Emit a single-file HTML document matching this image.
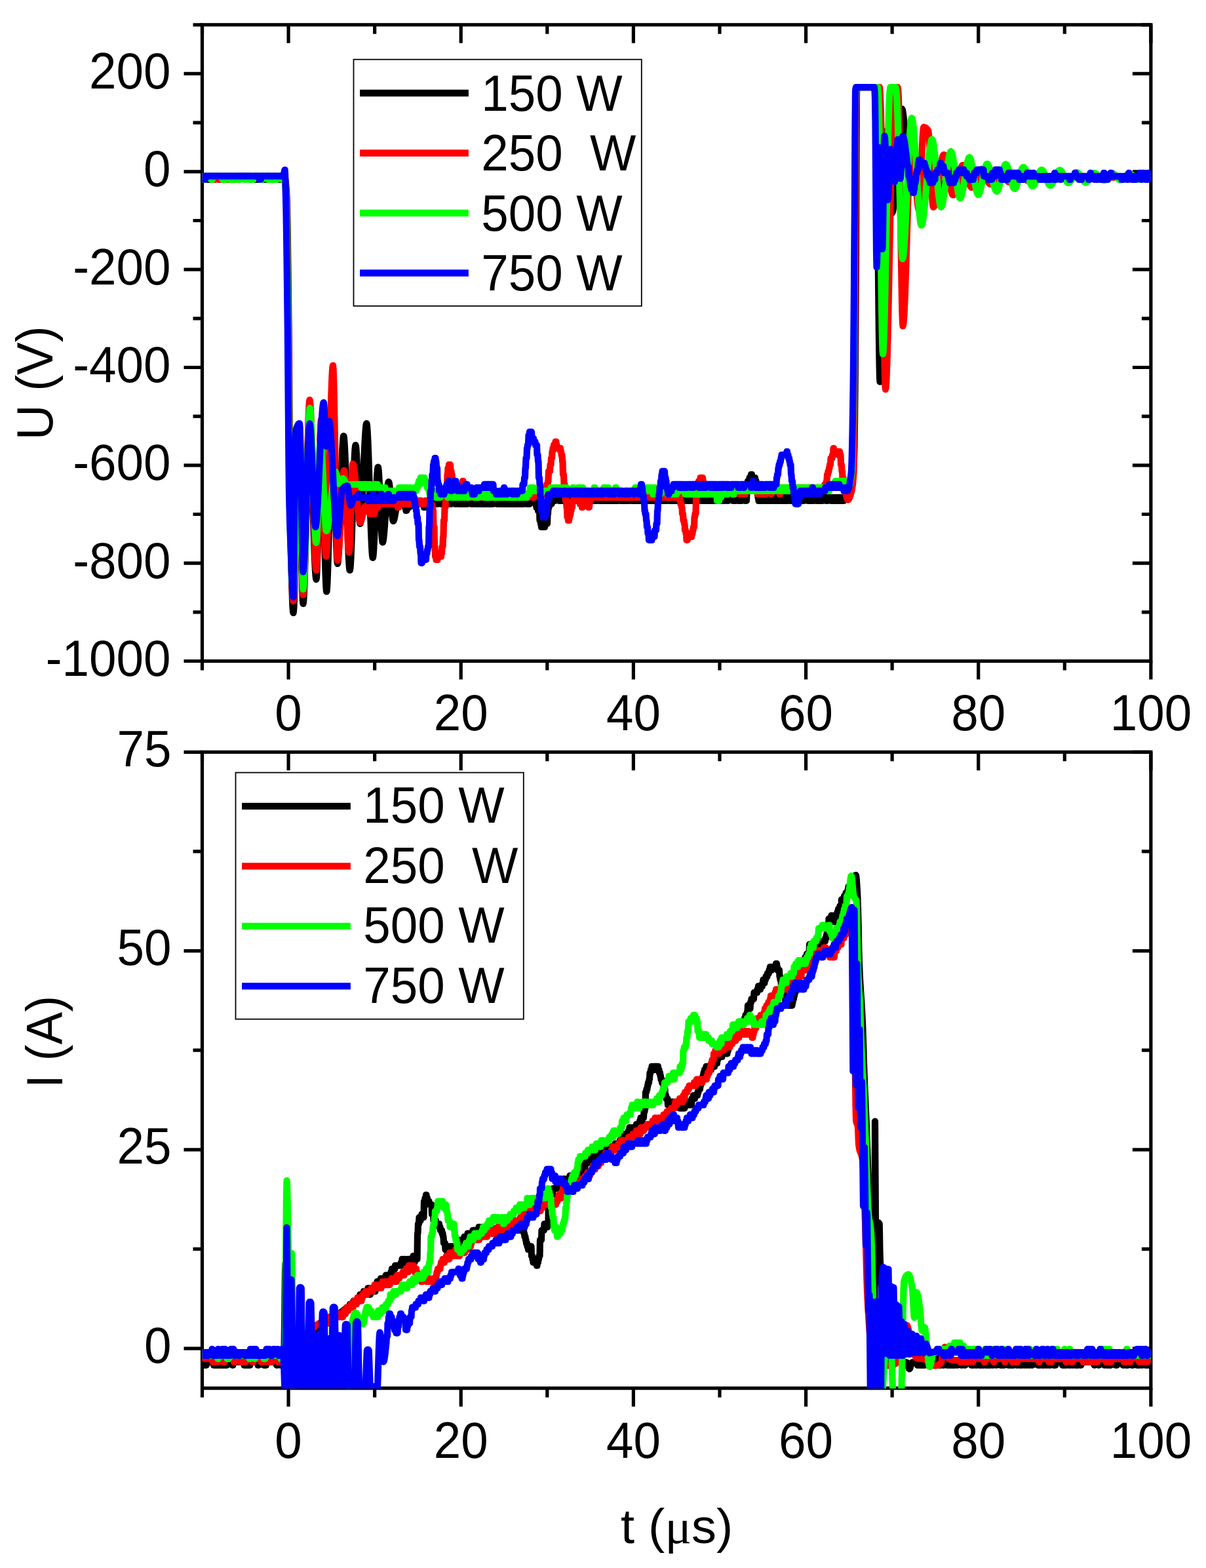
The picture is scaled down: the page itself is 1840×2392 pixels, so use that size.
<!DOCTYPE html>
<html lang="en">
<head>
<meta charset="utf-8">
<title>U (V) and I (A) versus t (μs)</title>
<style>
html,body{margin:0;padding:0;background:#fff;}
body{width:1840px;height:2392px;overflow:hidden;}
svg{display:block;}
text{white-space:pre;}
</style>
</head>
<body>
<svg width="1840" height="2392" viewBox="0 0 1840 2392" font-family="'Liberation Sans', sans-serif" font-size="74px" fill="#000">
<defs>
<clipPath id="ct"><rect x="308.5" y="37.8" width="1447.4" height="971.2"/></clipPath>
<clipPath id="cb"><rect x="308.5" y="1147.3" width="1447.4" height="970.9"/></clipPath>
</defs>
<rect width="1840" height="2392" fill="#fff"/>
<rect x="308.5" y="37.8" width="1447.4" height="970.7" fill="none" stroke="#000" stroke-width="5.2"/>
<path d="M440.08 1008.50v28.0M440.08 37.80v28.0M703.25 1008.50v28.0M703.25 37.80v28.0M966.41 1008.50v28.0M966.41 37.80v28.0M1229.57 1008.50v28.0M1229.57 37.80v28.0M1492.74 1008.50v28.0M1492.74 37.80v28.0M1755.90 1008.50v28.0M1755.90 37.80v28.0M308.50 1008.50v14.0M308.50 37.80v14.0M571.66 1008.50v14.0M571.66 37.80v14.0M834.83 1008.50v14.0M834.83 37.80v14.0M1097.99 1008.50v14.0M1097.99 37.80v14.0M1361.15 1008.50v14.0M1361.15 37.80v14.0M1624.32 1008.50v14.0M1624.32 37.80v14.0M308.50 1008.50h-28.0M1755.90 1008.50h-28.0M308.50 859.16h-28.0M1755.90 859.16h-28.0M308.50 709.82h-28.0M1755.90 709.82h-28.0M308.50 560.48h-28.0M1755.90 560.48h-28.0M308.50 411.15h-28.0M1755.90 411.15h-28.0M308.50 261.81h-28.0M1755.90 261.81h-28.0M308.50 112.47h-28.0M1755.90 112.47h-28.0M308.50 933.83h-14.0M1755.90 933.83h-14.0M308.50 784.49h-14.0M1755.90 784.49h-14.0M308.50 635.15h-14.0M1755.90 635.15h-14.0M308.50 485.82h-14.0M1755.90 485.82h-14.0M308.50 336.48h-14.0M1755.90 336.48h-14.0M308.50 187.14h-14.0M1755.90 187.14h-14.0M308.50 37.80h-14.0M1755.90 37.80h-14.0" fill="none" stroke="#000" stroke-width="5.2"/>
<g clip-path="url(#ct)" fill="none" stroke-width="10.2" stroke-linejoin="round" stroke-linecap="round">
<path stroke="#000000" d="M308.5 268.8h6.5l0.5 5h2.5l0.5-5h2l0.5 5h1.5l0.5-5h1l0.5 5h2.5l0.5-5h11l0.5 5h2l0.5-5h2l0.5 5h1.5l0.5-5h6.5l0.5 5h3l0.5-5h0.5l0.5 5h1.5l0.5-5h25l0.5 5h4l0.5-5h1.5l0.5 5h1.5l0.5-5h4.5l0.5 5h1.5l0.5-5h3l0.5 5h2.5l0.5-5h4.5l0.5 5h3l0.5-5h7l0.5 5h3l0.5-5h2l0.5 5h1l0.5-5h3.5l0.5 0.7l0.5 2.2l0.5 3.5l0.5 4.7l0.5 5.7l0.5 6.8l0.5 7.6l0.5 14.2l0.5 25.1l0.5 33.4l0.5 39.6l0.5 43.2l0.5 44.5l0.5 58.2l0.5 73.5l0.5 70.1l0.5 48.2l0.5 30.3l0.5 28.6l0.5 26.6l0.5 24.2l0.5 21.5l0.5 18.4l0.5 14.9l0.5 11.2l0.5 6.9l0.5 2.4l0.5-2.7l0.5-7.8l0.5-12.2l0.5-15.8l0.5-18.9l0.5-21.2l0.5-22.9l0.5-23.9l0.5-24.2l0.5-23.9l0.5-22.9l0.5-21.2l0.5-18.9l0.5-15.8l0.5-12.2l0.5-7.8l0.5-2.7l0.5 4.4l0.5 12.2l0.5 18.7l0.5 23.6l0.5 27.2l0.5 29.4l0.5 30l0.5 29.4l0.5 27.2l0.5 23.6l0.5 18.7l0.5 12.2l0.5 4.4l0.5-2.2l0.5-6.2l0.5-9.7l0.5-12.9l0.5-15.4l0.5-17.6l0.5-19.2l0.5-20.5l0.5-21.1l0.5-21.4l0.5-21.1l0.5-20.5l0.5-19.2l0.5-17.6l0.5-15.4l0.5-12.9l0.5-9.7l0.5-6.2l0.5-2.2l0.5 1.5l0.5 4.5l0.5 7l0.5 9.2l0.5 11.3l0.5 12.9l0.5 14.3l0.5 15.3l0.5 16.1l0.5 16.5l0.5 16.8l0.5 16.5l0.5 16.1l0.5 15.3l0.5 14.3l0.5 12.9l0.5 11.3l0.5 9.2l0.5 7l0.5 4.5l0.5 1.5l0.5-3l0.5-8.4l0.5-12.9l0.5-16.7l0.5-19.7l0.5-21.7l0.5-22.9l0.5-23.4l0.5-22.9l0.5-21.7l0.5-19.7l0.5-16.7l0.5-12.9l0.5-8.4l0.5-3l0.5 2.7l0.5 7.5l0.5 11.8l0.5 15.3l0.5 18.2l0.5 20.4l0.5 21.9l1 45.6l0.5 22.4l0.5 21.2l0.5 19.4l0.5 16.8l0.5 13.7l0.5 9.7l0.5 5.2l0.2 0.7l0.3-0.6l0.5-4.9l0.5-9l0.5-12.8l0.5-15.8l0.5-18.4l0.5-20.2l0.5-21.6l1-44.8l0.5-22l0.5-21l0.5-19.4l0.5-17.1l0.5-14.4l0.5-11l0.5-7l0.5-2.5l0.5 2.5l0.5 7l0.5 10.8l0.5 14.1l0.5 16.6l0.5 18.6l0.5 19.9l1 41l0.5 19.9l0.5 18.6l0.5 16.6l0.5 14.1l0.5 10.8l0.5 7l0.5 2.5l0.5-1.6l0.5-4.7l0.5-7.4l0.5-9.7l0.5-11.6l0.5-13.2l0.5-14.4l0.5-15.3l1-31.4l0.5-15.5l0.5-14.9l0.5-13.8l0.5-12.5l0.5-10.7l0.5-8.6l0.5-6.1l0.5-3.2l0.2-0.4l0.3 0.4l0.5 3.2l0.5 6.1l0.5 8.6l0.5 10.8l0.5 12.5l0.5 14l0.5 15l0.5 15.8l1 32.2l0.5 15.8l0.5 15l0.5 14l0.5 12.5l0.5 10.8l0.5 8.6l0.5 6.1l0.5 3.2l0.3 0.4l0.2-0.5l0.5-3.5l0.5-6.6l0.5-9.3l0.5-11.5l0.5-13.3l0.5-14.8l0.5-15.7l1-32.5l0.5-16.1l0.5-15.2l0.5-14.1l0.5-12.5l0.5-10.5l0.5-8l0.5-5.1l0.5-1.8l0.5 1.7l0.5 4.9l0.5 7.6l0.5 9.6l0.5 11.2l0.5 12.2l1 25.6l0.5 12.2l0.5 11.2l0.5 9.6l0.5 7.6l0.5 4.9l0.5 1.7l0.5-1.2l0.5-3.3l0.5-5.2l0.5-7l0.5-8.3l0.5-9.5l0.5-10.5l0.5-11.1l1.5-35l0.5-11.4l0.5-10.8l0.5-10.1l0.5-8.9l0.5-7.7l0.5-6.1l0.5-4.3l0.5-2.3l0.2-0.3l0.3 0.4l0.5 3.2l0.5 6.1l0.5 8.6l0.5 10.8l0.5 12.5l0.5 14l0.5 15l0.5 15.8l1 32.2l0.5 15.8l0.5 15l0.5 14l0.5 12.5l0.5 10.8l0.5 8.6l0.5 6.1l0.5 3.2l0.3 0.4l0.2-0.4l0.5-3l0.5-5.7l0.5-7.9l0.5-9.7l0.5-11.1l0.5-12.2l1.5-38.5l0.5-12.2l0.5-11.1l0.5-9.7l0.5-7.9l0.5-5.7l0.5-3l0.3-0.4l0.2 0.4l0.5 3.3l0.5 6l0.5 8.3l0.5 10l0.5 11.3l0.5 12l0.5 12.4l0.5 12l0.5 11.3l0.5 10l0.5 8.3l0.5 6l0.5 3.3l0.3 0.4l0.2-0.2l0.5-1.5l0.5-2.9l0.5-4.1l0.5-5.1l0.5-5.9l0.5-6.5l1-14.4l1-15l0.5-7.2l0.5-6.8l0.5-6.3l0.5-5.5l0.5-4.6l0.5-3.5l0.5-2.2l0.5-0.8l0.5 0.9l0.5 2.4l0.5 3.8l0.5 4.8l0.5 5.6l0.5 6.1l1 12.8l0.5 6.1l0.5 5.6l0.5 4.8l0.5 3.8l0.5 2.4l0.5 0.9l0.5-0.4l0.5-1.1l0.5-1.7l0.5-2.2l1-5.2l1-5.8l0.5-2.7l0.5-2h1l0.5-10h1l0.5 5h3l0.5-5h2.5l0.5 5h3l0.5 5h1l0.5 5h1l0.5-10h0.5l0.5 5h2l0.5-5h2.5l0.5-5h0.5l0.5 5h3.5l0.5-5h2l0.5 5h1l0.5-5h2l0.5 5h1l0.5-5h0.5l0.5 5h5l0.5 5h0.5l0.5-5h1l0.5-5h0.5l0.5 5h1l0.5-5h1l0.5 5h0.5l0.5-5h1l0.5 5h3.5l0.5-5h0.5l0.5 5h1l0.5-5h0.5l0.5 5h1l0.5-5h1l0.5 5h0.5l0.5-5h5l0.5 5h0.5l0.5-5h2l0.5 5h2.5l0.5-5h0.5l0.5 5h1l0.5-5h0.5l0.5 5h5l0.5-5h6l0.5 5h0.5l0.5-5h3.5l0.5 5h1l0.5-5h2l0.5 5h3.5l0.5-5h0.5l0.5 5h3.5l0.5-5h6l0.5 5h2l0.5-5h3.5l0.5 5h1l0.5-5h2l0.5 5h1l0.5-5h2l0.5 5h3.5l0.5-5h2l0.5 5h3.5l0.5-5h2l0.5 5h0.5l0.5-5h1l0.5 5h2l0.5-5h6l0.5 5h1l0.5-5h2l0.5 5h1l0.5-5h0.5l0.5 5h1l0.5-5h0.5l0.5 5h1l0.5-5h2l0.5 5h1l0.5-5h2l0.5 5h1l0.5-5h2l0.5 5h4.5l0.5-5h1l0.5 5h8.5l0.5-5h2l0.5 5h1l0.5-5h4.5l0.5 5h1l0.5-5h0.5l0.5 5h1l0.5-5h8.5l0.5 5h1l0.5 5h2l0.5 5h2l0.5 15h1l0.5 5h0.5l0.5 5h2.5l0.5-5h0.5l0.5 5h1l0.5-5h3.5l0.5-15h0.5l0.5-10h1l0.5-5h3.5l0.5-10h2l0.5 5h2l0.5-5h6l0.5 5h1l0.5-5h2l0.5 5h0.5l0.5-5h1l0.5 5h2l0.5-5h2l0.5 5h2.5l0.5-5h0.5l0.5 5h1l0.5-5h2l0.5 5h4.5l0.5-5h1l0.5 5h2l0.5-5h1l0.5 5h0.5l0.5-5h7.5l0.5 5h1l0.5-5h2l0.5 5h0.5l0.5-5h2.5l0.5 5h0.5l0.5-5h1l0.5 5h0.5l0.5-5h1l0.5 5h4.5l0.5-5h3.5l0.5 5h2l0.5-5h2.5l0.5 5h0.5l0.5-5h2l0.5 5h2.5l0.5-5h0.5l0.5 5h1l0.5-5h0.5l0.5 5h1l0.5-5h1l0.5 5h3l0.5-5h2.5l0.5 5h3l0.5-5h3.5l0.5 5h2l0.5-5h2.5l0.5 5h7l0.5-5h3.5l0.5 5h1l0.5-5h0.5l0.5 5h1l0.5-5h0.5l0.5 5h1l0.5-5h1l0.5 5h2l0.5-5h2l0.5 5h1l0.5-5h4.5l0.5 5h1l0.5-5h0.5l0.5 5h6l0.5-5h2l0.5 5h1l0.5-5h1l0.5 5h3l0.5-5h3.5l0.5 5h2l0.5-5h1l0.5 5h2l0.5-5h1l0.5 5h3.5l0.5-5h3l0.5 5h1l0.5-5h2l0.5 5h1l0.5-5h2l0.5 5h2l0.5-5h2l0.5 5h1l0.5-5h2l0.5 5h5l0.5-5h0.5l0.5 5h7.5l0.5-5h0.5l0.5 5h1l0.5-5h2l0.5 5h5l0.5-5h0.5l0.5 5h1l0.5-5h3.5l0.5 5h3l0.5-5h2.5l0.5 5h2l0.5-5h2l0.5 5h1l0.5-5h0.5l0.5 5h2l0.5-5h1l0.5 5h1l0.5-5h0.5l0.5 5h1l0.5-5h0.5l0.5 5h3.5l0.5-5h1l0.5 5h0.5l0.5-5h2.5l0.5 5h3l0.5-5h3.5l0.5 5h1l0.5-5h7l0.5 5h1l0.5-5h1l0.5 5h0.5l0.5-5h3.5l0.5 5h4.5l0.5-5h5l0.5 5h2l0.5-15h1l0.5-15h2l0.5-5h2l0.5-5h1l0.5 5h4.5l0.5 5h1l0.5 5h0.5l0.5 10h1l0.5 10h0.5l0.5 5h1l0.5-5h2l0.5 5h11.5l0.5-5h2l0.5 5h2l0.5-5h2l0.5 5h3.5l0.5-5h1l0.5 5h0.5l0.5-5h1l0.5 5h3.5l0.5-5h0.5l0.5 5h2l0.5-5h2.5l0.5 5h2l0.5-5h3.5l0.5 5h3l0.5-5h2.5l0.5 5h0.5l0.5-5h1l0.5 5h4.5l0.5-5h1l0.5 5h4.5l0.5-5h6l0.5 5h5l0.5-5h0.5l0.5 5h2l0.5-5h3.5l0.5 5h1l0.5-5h0.5l0.5 5h2.5l0.5-5h0.5l0.5 5h2l0.5-5h5l0.5 5h2l0.5-5h4.5l0.5 5h2.5l0.5-5h0.5l0.5 5h2l0.5-5h2.5l0.5 5h2l0.5-5h2l0.5 5h2l0.5-5h1l0.5 5h0.5l0.5-5h2.5l0.5-4.4l3-4.9l1-1.7l1.5-3l1-2.5l1-2.9l1-3.5l0.5-2.1l0.5-2.5l0.5-3l0.5-3.7l0.5-4.6l0.5-5.5l0.5-6.7l0.5-7.9l0.5-17.4l0.5-33.4l0.5-47.1l0.5-58.8l0.5-68.1l0.5-75.2l0.5-147.9l0.5-112.1l0.5-5l0.5-1.8h28l0.5 9l0.5 17.8l0.5 24.6l0.5 36.1l0.5 44.8l0.5 50.4l1 106.2l0.5 49.9l0.5 44l0.5 35l0.5 23.1l0.5 8.4l0.5-3.1l0.5-8.7l0.5-13.8l0.5-18.1l0.5-21.8l0.5-24.8l0.5-27.2l0.5-28.8l1.5-89.9l0.5-28.8l0.5-27.2l0.5-24.8l0.5-21.8l0.5-18.1l0.5-13.8l0.5-8.7l0.5-3.1l0.5 1.1l0.5 3.2l0.5 5l0.5 6.5l0.5 7.8l0.5 8.8l0.5 9.6l0.5 10.1l1 20.8l0.5 10.1l0.5 9.6l0.5 8.8l0.5 7.8l0.5 6.5l0.5 5l0.5 3.2l0.5 1.1l0.5-0.5l0.5-1.5l0.5-2.5l0.5-3.2l0.5-4.1l0.5-4.7l0.5-5.4l0.5-6l0.5-6.4l0.5-6.9l1-14.8l2.5-39.3l1-15.2l0.5-7.3l0.5-6.9l0.5-6.4l0.5-6l0.5-5.4l0.5-4.7l0.5-4.1l0.5-3.2l0.5-2.5l0.5-1.5l0.5-0.5l0.5 0.5l0.5 1.6l0.5 2.4l0.5 3.3l0.5 4l0.5 4.7l0.5 5.3l0.5 5.7l0.5 6.2l1 13.3l2 28l1 13.3l0.5 6.2l0.5 5.7l0.5 5.3l0.5 4.7l0.5 4l0.5 3.3l0.5 2.4l0.5 1.6l0.5 0.5l0.5-0.3l0.5-1l0.5-1.6l0.5-2.1l0.5-2.5l1-6l1-6.9l1.5-10.7l0.5-3.4l1-6l0.5-2.5l0.5-2.1l0.5-1.6l0.5-1l0.5-0.3l0.5 0.3l0.5 0.7l0.5 1.1l0.5 1.6l0.5 1.9l0.5 2.2l1 5.2l1 5.8l2 12.4l1 5.8l1 5.2l0.5 2.2l0.5 1.9l0.5 1.6l0.5 1.1l0.5 0.7l0.5 0.3l0.5-0.2l0.5-0.5l1-1.8l1-2.9l1-3.6l1.5-6.4l2-9.2l1.5-6.4l1-3.6l1-2.9l1-1.8l0.5-0.5l0.5-0.2l1 0.6l1 1.8l1 2.7l1 3.5l1 3.9l2.5 10.9l1 4.1l1 3.7l0.5 1.7l1 2.7l1 1.8l1 0.6l0.5-0.1l1-1l1-1.9l1-2.5l1.5-4.7l2-7.1l1-3.5l1.5-4.7l1-2.5l1-1.9l1-1h1l0.5 0.3l1 1.3l1 1.8l1.5 3.7l3 8.8l2 5.4l1 2.1l1 1.5l0.5 0.6l1 0.4l1-0.4l0.5-0.4l1-1.4l1-1.9l1.5-3.5l3-7.8l1.5-3.5l1-1.9l1-1.4l1-0.7h1l1.5 1l1 1.3l2 3.5l2 4.1l1 2.1l1.5 2.7l1 1.5l1.5 1.4l1 0.3l1-0.2l1-0.6l1.5-1.5l2-2.7l3.5-5.1l2-2.1l1-0.6l1.5-0.2l1.5 0.6l1.5 1.2l1.5 1.5l2 2.3l2.5 2.6l1.5 1.2l1.5 0.6l2-0.2l1.5-0.6l1.5-0.9l5-3.9l2.5-1.6l1.5-0.6l2-0.2l2 0.4l2 0.9l5 2.9l3 1.4l2 0.4l2-0.1l1.5-0.3l7-2.6l3.5-0.9l3.5-0.1l3 0.2l2.5 0.3l2.5 0.3l2.5 0.2l2.5 0.3l2.5 0.1l178.4 0.1"/>
<path stroke="#ff0000" d="M308.5 268.8h16.5l0.5 5h2l0.5-5h4l0.5 5h3l0.5-5h0.5l0.5 5h2l0.5-5h0.5l0.5 5h2l0.5-5h2.5l0.5 5h2.5l0.5-5h1l0.5 5h1.5l0.5-5h9l0.5 5h1.5l0.5-5h18l0.5 5h3.5l0.5-5h30l0.5 5h1.5l0.5-5h2.5l0.5 5h0.5l0.5-5h10.5l0.5 0.7l0.5 2.2l0.5 3.5l0.5 4.7l0.5 5.7l0.5 6.8l0.5 7.6l0.5 14.2l0.5 25.1l0.5 33.4l0.5 39.6l0.5 43.2l0.5 44.5l0.5 59l0.5 74.7l0.5 70.4l0.5 45.9l0.5 26.2l0.5 24.5l0.5 22.6l0.5 20.6l0.5 18.4l0.5 16l0.5 13.5l0.5 10.8l0.5 7.9l0.5 4.8l0.5 1.7l0.5-2.1l0.5-6.2l0.5-9.6l0.5-12.6l0.5-15.2l0.5-17.4l0.5-18.9l0.5-20.1l1.5-62.8l0.5-20.1l0.5-18.9l0.5-17.4l0.5-15.2l0.5-12.6l0.5-9.6l0.5-6.2l0.5-2.1l0.5 6l0.5 16.4l0.5 24.6l0.5 30.4l0.5 33.8l0.5 35.1l0.5 33.8l0.5 30.4l0.5 24.6l0.5 16.4l0.5 6l0.5-2.2l0.5-6.1l0.5-9.8l0.5-12.8l0.5-15.6l0.5-17.8l0.5-19.5l0.5-20.9l0.5-21.8l1-44.5l0.5-21.8l0.5-20.9l0.5-19.5l0.5-17.8l0.5-15.6l0.5-12.8l0.5-9.8l0.5-6.1l0.5-2.2l0.5 1.9l0.5 5.4l0.5 8.5l0.5 11.2l0.5 13.6l0.5 15.6l0.5 17.1l0.5 18.2l0.5 19.1l1 38.8l0.5 19.1l0.5 18.2l0.5 17.1l0.5 15.6l0.5 13.6l0.5 11.2l0.5 8.5l0.5 5.4l0.5 1.9l0.5-2.9l0.5-8.3l0.5-12.7l0.5-16.4l0.5-19.3l0.5-21.4l0.5-22.5l0.5-23l0.5-22.5l0.5-21.4l0.5-19.3l0.5-16.4l0.5-12.7l0.5-8.3l0.5-2.9l0.5 2.7l0.5 7.4l0.5 11.6l0.5 14.9l0.5 17.5l0.5 19.4l0.5 20.5l0.5 20.8l0.5 20.5l0.5 19.3l0.5 17.5l0.5 14.9l0.5 11.6l0.5 7.5l0.5 2.7l0.5-2l0.5-5.5l0.5-8.7l0.5-11.5l0.5-14l0.5-16.1l0.5-17.8l0.5-19l0.5-20.1l1.5-62l0.5-20l0.5-19.1l0.5-17.8l0.5-16l0.5-14l0.5-11.6l0.5-8.7l0.5-5.5l0.5-1.9l0.5 4.3l0.5 12.2l0.5 18.6l0.5 23.9l0.5 27.7l0.5 30.4l1 63.3l0.5 30.4l0.5 27.7l0.5 23.9l0.5 18.6l0.5 12.2l0.5 4.3l0.5-1l0.5-2.8l0.5-4.6l0.5-5.9l0.5-7.2l0.5-8.2l0.5-9l0.5-9.7l1.5-30.6l0.5-10.1l0.5-9.7l0.5-9l0.5-8.2l0.5-7.2l0.5-5.9l0.5-4.5l0.5-2.9l0.5-1l0.5 1.6l0.5 4.5l0.5 6.9l0.5 8.9l0.5 10.5l0.5 11.6l1.5 37l0.5 11.6l0.5 10.5l0.5 8.9l0.5 6.9l0.5 4.5l0.5 1.6l0.5-2.9l0.5-7.9l0.5-12l0.5-14.8l0.5-16.8l1-34.8l0.5-15.9l0.5-13.5l0.5-10.1l0.5-5.6l0.2-0.7l0.3 0.1l0.5 1l0.5 2l0.5 2.7l0.5 3.5l0.5 4.1l0.5 4.7l0.5 5.1l1 11.2l1.5 17.8l1 11.4l0.5 5.3l0.5 4.9l0.5 4.4l0.5 3.8l0.5 3.2l0.5 2.3l0.5 1.5l0.5 0.5l0.5-0.3l0.5-0.8l0.5-1.2l0.5-1.6l1-4l2-9.2l1-4l0.5-1.6l0.5-1.2l0.5-0.8l0.5-0.3l0.5 0.1l0.5 0.4l1 1.4h3l0.5 5h0.8l0.2 5h1l0.5-5h2l0.5-5h1l0.5 5h0.5l0.5 5h1l0.5-5h0.5l0.5-5h1l0.5-5h1l0.5 5h0.5l0.5-5h1l0.5-5h0.5l0.5 5h1l0.5-5h2l0.5 5h1l0.5-5h0.5l0.5 5h5l0.5-5h2l0.5 5h2l0.5-5h1l0.5 5h8.5l0.5 5h1l0.5-5h0.5l0.5-5h1l0.5 5h0.5l0.5-5h1l0.5 5h1l0.5-5h4.5l0.5 5h6l0.5-5h2l0.5 5h2l0.5-5h2.5l0.5 5h0.5l0.5-5h1l0.5 5h3.5l0.5-5h2l0.5 5h7l0.5-5h1l0.5 5h2l0.5-5h1l0.5 5h2l0.5 5h1l0.5 5h0.5l0.5 25h1l0.5 30h0.5l0.5 15h1l0.5 5h2l0.5-5h2l0.5-5h1l0.5 5h1l0.5-5h0.5l0.5-10h1l0.5-15h0.5l0.5-25h1l0.5-20h1l0.5-20h0.5l0.5-10h1l0.5-20h0.5l0.5-10h1l0.5-5h2l0.5 10h1l0.5 5h0.5l0.5 10h1l0.5 10h1l0.5 10h0.8l0.2-5h2l0.5-5h7.5l0.5-5h1l0.5-5h0.5l0.5 5h1l0.5 5h0.5l0.5 5h1l0.5 5h6l0.5 5h2l0.5-5h6l0.5 5h3.5l0.5-5h3.5l0.5 5h0.5l0.5-5h1l0.5 5h1l0.5-5h2l0.5 5h0.5l0.5-5h1l0.5 5h1l0.5-5h2l0.5 5h0.5l0.5-5h5l0.5 5h3.5l0.5-5h3l0.5 5h1l0.5-5h3.5l0.5 5h0.5l0.5-5h1l0.5 5h2l0.5-5h2l0.5 5h2.5l0.5-5h2l0.5 5h0.5l0.5-5h6l0.5 5h1l0.5-5h3.5l0.5 5h0.5l0.5-5h1l0.5 5h4.5l0.5-5h2.5l0.5 5h0.5l0.5-5h1l0.5 5h0.5l0.5-5h6l0.5 5h1l0.5-5h2l0.5-5h1l0.5 5h0.5l0.5-5h1l0.5 5h7.5l0.5-5h0.5l0.5 5h1l0.5-5h0.5l0.5-5h1l0.5-5h1l0.5-5h0.5l0.5-15h2l0.5-10h1l0.5-10h1l0.5-10h0.5l0.5-5h1l0.5-5h2l0.5-5h1l0.5 5h0.5l0.5 5h5l0.5 5h0.5l0.5 5h1l0.5 10h0.5l0.5 20h1l0.5 15h1l0.5 15h0.5l0.5 10h1l0.5 10h0.5l0.5 15h1l0.5 5h1l0.5-5h0.5l0.5-5h1l0.5-5h0.5l0.5-5h1l0.5-10h3.5l0.5-5h3.5l0.5 5h0.5l0.5-5h1l0.5 5h0.5l0.5 5h2.5l0.5 5h0.5l0.5-5h1l0.5-10h0.5l0.5 5h2.5l0.5 5h3l0.5 5h1l0.5-10h1l0.5-5h3l0.5-5h2.5l0.5 5h2l0.5-5h0.5l0.5 5h5l0.5-5h0.5l0.5 5h2.5l0.5-5h2l0.5 5h3.5l0.5-5h3l0.5 5h3.5l0.5-5h2l0.5 5h2.5l0.5-5h3l0.5 5h1l0.5-5h2l0.5 5h1l0.5-5h0.5l0.5 5h1l0.5-5h2l0.5 5h6l0.5-5h2l0.5 5h2.5l0.5-5h2l0.5 5h8.5l0.5-5h1l0.5 5h7l0.5-5h1l0.5 5h3.5l0.5-5h3l0.5 5h1l0.5-5h1l0.5 5h2l0.5-5h0.5l0.5 5h11.5l0.5-5h2l0.5 5h3.5l0.5-5h0.5l0.5 5h1l0.5-5h1l0.5 5h0.5l0.5-5h2l0.5 5h5l0.5-5h0.5l0.5 5h2.5l0.5 5h0.5l0.5 5h1l0.5 5h0.5l0.5 10h1l0.5 10h1l0.5 5h0.5l0.5 10h1l0.5 5h0.5l0.5 10h1.3l0.2-5h3.5l0.5-5h0.5l0.5 5h1l0.5-5h1l0.5-5h0.5l0.5-5h1l0.5-15h0.5l0.5-5h1l0.5-25h1l0.5-5h0.5l0.5-5h1l0.5-15h2l0.5-5h3.5l0.5 5h0.5l0.5 5h1l0.5 5h1l0.5 5h2l0.5-5h0.5l0.5 5h1l0.5 5h1l0.5-5h7l0.5 5h1l0.5-5h0.5l0.5 5h1l0.5-5h1l0.5 5h0.5l0.5-5h1l0.5 5h0.5l0.5-5h2.5l0.5 5h0.5l0.5-5h14l0.5 5h0.5l0.5-5h1l0.5 5h1l0.5-5h3l0.5-5h1l0.5 5h2l0.5 5h1l0.5-5h2l0.5 5h1l0.5-5h0.5l0.5 5h1l0.5-5h3.5l0.5-5h2l0.5 5h10l0.5-5h0.5l0.5 10h1l0.5-5h3.5l0.5 5h0.5l0.5-5h3.5l0.5 5h2l0.5-5h1l0.5-5h0.5l0.5 5h5l0.5 5h0.5l0.5-10h1l0.5 5h2l0.5-5h1l0.5 5h6l0.5 5h0.5l0.5-5h1l0.5-5h2l0.5 5h2l0.5-5h2.5l0.5 5h2l0.5-5h2l0.5 5h2l0.5-5h1l0.5 5h0.5l0.5-5h1l0.5 5h1l0.5-5h2l0.5 5h2l0.5-5h3.5l0.5 5h0.5l0.5-5h2.5l0.5 5h2l0.5-5h0.5l0.5 5h3.5l0.5-5h1l0.5 5h0.5l0.5-5h1l0.5 5h1l0.5-5h0.5l0.5 5h1l0.5-5h0.5l0.5 5h2.5l0.5-5h0.5l0.5 5h1l0.5-5h2l0.5 5h1l0.5-5h6l0.5-5h2l0.5-5h0.5l0.5-10h1l0.5-5h1l0.5-5h0.5l0.5-5h1l0.5-10h2l0.5-5h1l0.5-10h0.5l0.5 5h6l0.5 5h1l0.5-5h0.7l0.3 5h1l0.5 15h1l0.5 10h0.5l0.5 10h1l0.5 10h0.5l0.5 10h2l0.5 4.9l1 4.2l0.5 1.7l0.5 1.3l0.5 0.9l0.8 0.6l0.7-0.3l1-1.4l1-2.3l1-3.1l1-3.5l1-4l0.5-2.4l0.5-3l0.5-3.8l0.5-4.9l0.5-6.2l0.5-7.6l0.5-26.8l0.5-56.1l0.5-74.8l0.5-82.7l0.5-79.6l0.5-99.2l0.5-107.2l0.5-53.6l0.5-4.9l0.5-1.9h34.5l0.5 4.3l0.5 10.1l0.5 12.4l0.5 16.2l0.5 23.2l0.5 29.2l0.5 33.8l0.5 37.2l0.5 39.5l1 80.8l0.5 38.9l0.5 36.2l0.5 32.4l0.5 27.3l0.5 21l0.5 13.5l0.5 4.8l0.5-1.9l0.5-5.7l0.5-8.9l0.5-12.1l0.5-14.8l0.5-17.3l0.5-19.4l0.5-21.3l0.5-22.9l0.5-24.1l0.5-25l0.5-25.7l1-52.1l0.5-25.8l0.5-25.3l0.5-24.4l0.5-23.2l0.5-21.7l0.5-19.9l0.5-17.9l0.5-15.5l0.5-12.8l0.5-9.8l0.5-6.5l0.5-4.6l0.5-2.2h5l0.5 2.2l0.5 4.6l0.5 9.5l0.5 17.7l0.5 24.3l0.5 29.6l0.5 33.5l0.5 35.9l0.5 37l0.5 36.6l0.5 34.9l0.5 31.7l0.5 27.1l0.5 21.1l0.5 13.7l0.5 4.9l0.5-1.3l0.5-3.6l0.5-5.9l0.5-7.8l0.5-9.7l0.5-11.2l0.5-12.7l0.5-13.8l0.5-14.9l0.5-15.6l0.5-16.3l0.5-16.6l1-33.7l0.5-16.6l0.5-16.3l0.5-15.6l0.5-14.9l0.5-13.8l0.5-12.7l0.5-11.2l0.5-9.7l0.5-7.8l0.5-5.9l0.5-3.6l0.5-1.3l0.5 0.6l0.5 1.9l0.5 2.9l0.5 3.8l0.5 4.7l0.5 5.5l0.5 6.1l0.5 6.6l0.5 6.9l1.5 22.2l1 14.8l0.5 6.9l0.5 6.6l0.5 6.1l0.5 5.5l0.5 4.7l0.5 3.8l0.5 2.9l0.5 1.9l0.5 0.6l0.5-1.7l0.5-4.8l0.5-7.4l0.5-9.6l0.5-11.1l0.5-12.3l1-25.8l0.5-12.7l0.5-11.7l0.5-10.4l0.5-8.6l0.5-6.1l0.5-3.4l0.5-0.4l2 0.6l1.5 1l1.5 1.5l1.5 1.9l0.5 1.9l0.5 4.2l0.5 6.1l0.5 7.6l0.5 9l0.5 9.8l0.5 10.5l1 21.5l0.5 10.3l0.5 9.7l0.5 8.6l0.5 7.3l0.5 5.6l0.5 3.6l0.5 1.3l0.5-0.2l0.5-0.7l0.5-1.1l0.5-1.4l0.5-1.8l1-4.6l1-5.6l1-6.5l1.5-10.6l2-15l1-7.2l1-6.7l0.5-3.2l1-5.6l1-4.6l0.5-1.8l0.5-1.4l0.5-1.1l0.5-0.7l0.5-0.2l0.5 0.2l0.5 0.7l0.5 1.1l0.5 1.4l0.5 1.8l1 4.4l1 5.4l1 6l2.5 16.3l1 6.3l1 5.7l0.5 2.6l1 4.4l0.5 1.8l0.5 1.4l0.5 1.1l0.5 0.7l0.5 0.2l0.5-0.1l1-1.2l0.5-0.9l1-2.5l1-3.3l1-3.8l1.5-6.4l2-9.1l1.5-6.4l1-3.8l1-3.3l1-2.5l1-1.6l0.5-0.5h1l0.5 0.4l1 1.5l1 2.3l1 2.9l1 3.3l3 11.2l1 3.5l1 3.1l1 2.6l0.5 1.1l1 1.5l0.5 0.4h1l1-0.7l1-1.3l1.5-2.8l1.5-3.6l3-8.3l1-2.7l1-2.5l1.5-3.1l1-1.5l1-1l1-0.4l1 0.4l1 1l1 1.5l2 4.2l3 7.6l2 4.5l1 1.7l1 1.3l1 0.7h1l1-0.5l1-0.9l1.5-2l2-3.5l3-6l1.5-2.7l1.5-2.2l1-1.1l1-0.7l1-0.3l1 0.2l1 0.7l1 1.1l1.5 2.1l4 7.1l1 1.7l1.5 2.1l1 1.1l1 0.7l1.5 0.2l2-1l1-0.9l1.5-1.7l4-5.5l1.5-1.9l1-1.1l1-0.9l2-1h1l2 1l2 1.9l1.5 1.8l3.5 4.4l1.5 1.5l1.5 1l1 0.4l1.5-0.1l1.5-0.7l2-1.6l1.5-1.5l3.5-3.7l2-1.6l1.5-0.7l1.5-0.1l1.5 0.4l1.5 0.8l2.5 1.9l3.5 3l1.5 1l1 0.5l1.5 0.4l2-0.2l1.5-0.6l2-1.2l2.5-1.9l3.5-2.3l1.5-0.6l2-0.2l1.5 0.3l1.5 0.6l1.5 0.8l3.5 2.2l2 1.2l1.5 0.6l1.5 0.3l2-0.1l4-1.4l2.5-1.2l4-1.8l1.5-0.4l2-0.1l2.5 0.4l7 2.6l3.5 0.9l2.5 0.1l3.5-0.6l2.5-0.8l2-0.5l4-1l3-0.1l2 0.3l2 0.3l2.5 0.6l2 0.5l2 0.5l2.5 0.3h2.5l2.5-0.3l3-0.4l2-0.3l2.5-0.3l7-0.2l3.5 0.1l3 0.1l2.5 0.1l3.5 0.1l39.9 0.1"/>
<path stroke="#00ff00" d="M308.5 268.8h1.5l0.5 5h2l0.5-5h8.5l0.5 5h2l0.5-5h14.5l0.5 5h4.5l0.5-5h5.5l0.5 5h1.5l0.5-5h2l0.5 5h2l0.5-5h2.5l0.5 5h2l0.5-5h0.5l0.5 5h2.5l0.5-5h6l0.5 5h1l0.5-5h3l0.5 5h3l0.5-5h3l0.5 5h1.5l0.5-5h9.5l0.5 5h2.5l0.5-5h7.5l0.5 5h3l0.5-5h0.5l0.5 5h2l0.5-5h0.5l0.5 5h3.5l0.5-5h0.5l0.5 5h1l0.5-5h6.5l0.5 5l0.5-5h2.5l0.5 0.7l0.5 2.2l0.5 3.5l0.5 4.7l0.5 5.7l0.5 6.8l0.5 7.6l0.5 14.2l0.5 25.1l0.5 33.4l0.5 39.6l0.5 43.2l0.5 44.5l0.5 59.5l0.5 75.7l0.5 70.5l0.5 44.3l0.5 23.3l0.5 21.6l0.5 19.9l0.5 18.1l0.5 16.3l0.5 14.4l0.5 12.3l0.5 10.3l0.5 8.1l0.5 5.9l0.5 3.6l0.5 1.2l0.5-2l0.5-5.8l0.5-9.1l0.5-12l0.5-14.4l0.5-16.5l0.5-17.9l0.5-19.1l0.5-19.7l0.5-20l0.5-19.7l0.5-19.1l0.5-17.9l0.5-16.5l0.5-14.4l0.5-12l0.5-9.1l0.5-5.8l0.5-2l0.5 5.7l0.5 15.8l0.5 23.5l0.5 29.2l0.5 32.4l0.5 33.6l0.5 32.4l0.5 29.1l0.5 23.5l0.5 15.8l0.5 5.8l0.5-2l0.5-5.4l0.5-8.7l0.5-11.4l0.5-13.8l0.5-15.9l0.5-17.5l0.5-18.7l0.5-19.6l1-40.3l0.5-19.9l0.5-19.2l0.5-18.2l0.5-16.7l0.5-14.9l0.5-12.7l0.5-10.1l0.5-7.1l0.5-3.7l0.3-0.5l0.2 0.4l0.5 3.1l0.5 5.8l0.5 8.2l0.5 10.3l0.5 12l0.5 13.5l0.5 14.5l0.5 15.3l1 31.5l0.5 15.5l0.5 15l0.5 14l0.5 12.8l0.5 11.2l0.5 9.3l0.5 7.1l0.5 4.4l0.5 1.6l0.5-2.6l0.5-7.3l0.5-11.2l0.5-14.1l0.5-16.3l0.5-17.5l0.5-18l0.5-17.5l0.5-16.3l0.5-14.1l0.5-11.2l0.5-7.3l0.5-2.6l0.5 1.2l0.5 3.5l0.5 5.5l0.5 7.2l0.5 8.6l0.5 9.8l0.5 10.6l0.5 11.1l1 23l0.5 11.1l0.5 10.6l0.5 9.8l0.5 8.6l0.5 7.2l0.5 5.5l0.5 3.5l0.5 1.2l0.5-0.3l0.5-1l0.5-1.6l0.5-2.1l0.5-2.6l0.5-3l1-7.2l1-8.4l1-9.2l2-19.2l1-9.2l1-8.4l1-7.2l0.5-3l0.5-2.6l0.5-2.1l0.5-1.6l0.5-1l0.5-0.3l0.5 0.5l0.5 1.4l0.5 2l0.5 2.4l1 5.4l0.5 2.4l0.5 2l0.5 1.4l0.5 0.5l1-0.6l0.5-0.6l3-5.6l1-1l0.5-0.2l0.5 0.1l1 1.1l1 1.7l2 4.2l1 1.7l1 1.1l1.5 0.1l2.5-0.5l3-0.5h8l6.5-0.1l0.5 5h2.5l0.5-5h0.5l0.5 5h1l0.5-5h2l0.5 5h3.5l0.5-5h0.5l0.5 5h5l0.5-5h0.5l0.5 5h1l0.5-5h3.5l0.5 5h11l0.5 5h10l0.5 5h1l0.5-5h0.5l0.5 5h1l0.5-5h6l0.5-5h2l0.5 5h2l0.5-5h1l0.5 5h2l0.5-5h1l0.5 5h2l0.5-5h0.5l0.5 5h2.5l0.5-5h0.5l0.5 5h5l0.5-5h0.5l0.5 5h1l0.5-5h2l0.5-5h1l0.5-5h0.5l0.5 5h1l0.5-10h0.5l0.5 5h1l0.5-5h3.5l0.5 5h2l0.5 5h1l0.5 5h0.5l0.5-5h1l0.5 10h0.5l0.5 5h1l0.5-5h4.5l0.5 5h2.5l0.5 5h2l0.5-5h0.5l0.5-5h1l0.5 10h2l0.5-10h1l0.5 5h8.5l0.5 5h2l0.5-5h5l0.5 5h0.5l0.5-5h2l0.5 5h1l0.5-5h2l0.5 5h1l0.5-5h3.5l0.5 5h0.5l0.5-5h2l0.5 5h1l0.5-5h3.5l0.5 5h2l0.5-5h7.5l0.5 5h0.5l0.5-5h2l0.5 5h3.5l0.5-5h7.5l0.5 5h3.5l0.5-5h0.5l0.5 5h2l0.5-5h2.5l0.5 5h0.5l0.5-5h2l0.5 5h2.5l0.5-5h0.5l0.5 5h5l0.5-5h3l0.5 5h1l0.5-5h3.5l0.5 5h3.5l0.5-5h2l0.5 5h3.5l0.5-5h0.5l0.5 5h1l0.5-5h0.5l0.5 5h3.5l0.5-5h1l0.5 5h2l0.5-5h1l0.5 5h2l0.5-5h3.5l0.5 5h2l0.5-5h3.5l0.5-5h0.5l0.5-5h1l0.5 5h2l0.5-5h1l0.5 5h9.5l0.5 5h1l0.5-5h14l0.5-5h0.5l0.5 5h1l0.5-5h0.5l0.5 5h2.5l0.5 5h0.5l0.5-10h1l0.5 10h0.5l0.5-5h1l0.5-5h1l0.5 5h0.5l0.5-5h1l0.5 5h3.5l0.5-5h0.5l0.5 5h2l0.5-5h1l0.5 5h1l0.5 5h0.5l0.5-5h6l0.5-5h1l0.5 5h6l0.5-5h0.5l0.5 5h1l0.5-5h1l0.5 5h2l0.5-5h0.5l0.5 5h16.5l0.5-5h1l0.5 10h2l0.5-5h2l0.5 5h1l0.5-5h4.5l0.5 5h1l0.5-10h2l0.5 5h3.5l0.5-5h0.5l0.5 5h2.5l0.5 5h0.5l0.5-5h6l0.5-5h1l0.5 5h0.5l0.5 5h3.5l0.5-5h12.5l0.5 5h2l0.5-5h3.5l0.5 5h3.5l0.5-10h1l0.5 10h0.5l0.5-5h7.5l0.5 5h0.5l0.5-10h1l0.5 5h4.5l0.5-5h1l0.5 5h4.5l0.5-5h1l0.5 5h1l0.5 5h0.5l0.5-5h1l0.5-5h0.5l0.5 10h1l0.5-5h2l0.5 5h3.5l0.5-5h10l0.5 5h0.5l0.5-5h2.5l0.5 5h0.5l0.5-5h3.5l0.5 5h2l0.5-10h1l0.5 10h0.5l0.5-5h12.5l0.5 5h1l0.5-5h1l0.5 5h2l0.5-5h3.5l0.5 5h2l0.5-5h0.5l0.5 5h1l0.5-5h2l0.5 5h1l0.5-5h2l0.5 5h2l0.5-5h2l0.5 5h1l0.5-5h1l0.5 5h2l0.5-5h0.5l0.5 5h1l0.5-5h3.5l0.5 5h2l0.5-5h1l0.5 5h0.5l0.5-5h3.5l0.5 5h1l0.5 10h3l0.5-5h2.5l0.5-10h3l0.5-5h1l0.5 10h1l0.5-5h0.5l0.5 5h2l0.5-5h3.5l0.5-5h1l0.5 5h2l0.5 5h1l0.5-5h16l0.5-5h3.5l0.5 5h2l0.5-5h2.5l0.5 5h2l0.5-5h0.5l0.5 5h3.5l0.5-5h2l0.5 5h1l0.5-5h3.5l0.5 5h0.5l0.5-5h2.5l0.5 5h0.5l0.5-5h3.5l0.5 5h1l0.5-5h6l0.5 5h0.5l0.5-5h1l0.5 5h2l0.5-5h6l0.5 5h1l0.5-5h4.5l0.5 5h1l0.5-5h0.5l0.5 5h2l0.5-5h2.5l0.5 5h0.5l0.5-5h2l0.5 5h1l0.5-5h1l0.5 5h0.5l0.5-5h1l0.5 5h2l0.5-5h1l0.5 5h0.5l0.5-5h1l0.5 5h0.5l0.5-5h2.5l0.5 5h2l0.5-5h0.5l0.5 5h1l0.5-5h3.5l0.5 5h0.5l0.5-5h1l0.5 5h1l0.5-5h0.5l0.5 5h1l0.5-5h0.5l0.5 5h1l0.5-5h1l0.5 5h2l0.5-5h0.5l0.5 5h2.5l0.5-5h0.5l0.5 5h1l0.5-5h2l0.5 5h1l0.5-5h2l0.5 5h0.5l0.5-5h3.5l0.5 5h1l0.5-5h7l0.5-5h1l0.5-5h1l0.5 5h2l0.5-5h0.5l0.5 5h1l0.5-5h4.5l0.5 5h1l0.5-5h1l0.5 5h0.5l0.5-5l0.5 1.1h1.5l0.5 0.2l1 1.4l1.5 2.6l0.5 0.6l0.5 0.2l0.5-0.4l0.5-1.3l0.5-2l0.5-2.8l0.5-3.6l0.5-4.3l0.5-4.9l0.5-5.7l0.5-13.4l0.5-26.2l0.5-36.1l0.5-43.2l0.5-47.4l0.5-48.7l0.5-67.5l0.5-91.3l0.5-93.6l0.5-74.2l0.5-33.4l0.5-4.8l0.5-2h32.5l0.5 4.3l0.5 10.1l0.5 12.4l0.5 16.9l0.5 24.9l0.5 31.4l0.5 36.2l0.5 39.3l1 81.5l0.5 39l0.5 35.5l0.5 30.5l0.5 23.8l0.5 15.5l0.5 5.5l0.5-2.4l0.5-7l0.5-11l0.5-14.6l0.5-17.9l0.5-20.5l0.5-22.8l0.5-24.6l0.5-26l0.5-26.9l1-54.7l0.5-26.9l0.5-26l0.5-24.7l0.5-22.8l0.5-20.6l0.5-17.8l0.5-14.7l0.5-11.1l0.5-7l0.5-4.6l0.5-2.2h8l0.5 2.3l0.5 4.5l0.5 6.2l0.5 9.1l0.5 11.6l0.5 13.8l0.5 15.6l0.5 17l0.5 18l0.5 18.7l1 38l0.5 18.5l0.5 17.7l0.5 16.6l0.5 15l0.5 13.1l0.5 10.9l0.5 8.2l0.5 5.2l0.5 1.8l0.5-0.8l0.5-2.3l0.5-3.8l0.5-5l0.5-6.2l0.5-7.3l0.5-8.2l0.5-9l0.5-9.8l0.5-10.3l0.5-10.8l0.5-11.1l2-45.8l0.5-11.1l0.5-10.8l0.5-10.3l0.5-9.8l0.5-9l0.5-8.2l0.5-7.3l0.5-6.2l0.5-5l0.5-3.8l0.5-2.3l0.5-0.8l0.5 0.6l0.5 1.6l0.5 2.5l0.5 3.5l0.5 4.3l0.5 5.1l0.5 5.7l0.5 6.3l0.5 6.8l0.5 7.3l0.5 7.6l0.5 7.9l1 16.4l1 16.7l1 16.2l0.5 7.8l0.5 7.4l0.5 7.1l0.5 6.6l0.5 6l0.5 5.4l0.5 4.7l0.5 3.9l0.5 3l0.5 2.1l0.5 1.1l0.5 0.1l0.5-0.8l0.5-1.4l0.5-2l0.5-2.6l0.5-3.2l0.5-3.6l0.5-4.1l0.5-4.5l0.5-4.8l1-10.6l1-11.5l1-11.9l1.5-18.1l1-11.6l0.5-5.6l0.5-5.3l0.5-5l0.5-4.7l0.5-4.3l0.5-3.8l0.5-3.4l0.5-2.9l0.5-2.4l0.5-1.7l0.5-1l0.5-0.4l0.5 0.4l0.5 1.2l0.5 1.8l0.5 2.5l0.5 3.1l0.5 3.6l0.5 4.1l0.5 4.5l0.5 4.8l1 10.4l1 11.1l1 11.3l1 11l0.5 5.2l1 9.6l0.5 4.3l0.5 3.8l0.5 3.4l0.5 2.8l0.5 2.2l0.5 1.5l0.5 0.8h0.5l0.5-0.5l0.5-1.1l0.5-1.5l0.5-2l0.5-2.3l0.5-2.7l1-6.4l1-7.3l1.5-12.2l1.5-12.8l1.5-12.2l1-7.3l1-6.4l0.5-2.7l0.5-2.3l0.5-2l0.5-1.5l0.5-1.1l0.8-0.6l0.7 0.6l0.5 1l0.5 1.4l0.5 1.8l0.5 2.2l1 5.2l1 6.3l1 7l3 22.3l1 6.8l0.5 3.2l0.5 2.9l1 5l0.5 2l0.5 1.6l0.5 1.2l0.5 0.7l0.5 0.3l0.5-0.2l0.5-0.7l0.5-1.1l0.5-1.5l0.5-1.8l0.5-2.1l1-5l1-5.8l1.5-9.7l1.5-10l1-6.4l1-5.8l1-5l0.5-2.1l0.5-1.8l0.5-1.5l0.5-1.1l0.5-0.7l0.5-0.2l0.5 0.2l0.5 0.7l0.5 1.1l0.5 1.4l0.5 1.7l1 4.4l0.5 2.5l1 5.7l1.5 9.2l1.5 9.4l1 5.9l0.5 2.8l1 4.8l0.5 2.1l0.5 1.7l0.5 1.4l0.5 1.1l0.5 0.7l0.5 0.2l0.5-0.2l0.5-0.5l0.5-0.9l1-2.6l1-3.6l1-4.4l1-4.8l2.5-13l1.5-7.1l1-4l0.5-1.7l1-2.6l0.5-0.9l0.5-0.5l0.5-0.2l0.5 0.1l1 1.1l1 2l1 2.8l1 3.3l1.5 5.9l1.5 6.3l1 4.3l1.5 5.9l1 3.5l1 3l1 2.2l1 1.3l1 0.3l1-1l0.5-0.8l1-2.5l1-3.3l1-3.8l1.5-6.5l2-9l1-4.2l1-3.7l1-3.1l1-2.2l0.5-0.8l1-0.6l1 0.6l1 1.6l1 2.5l1 3.2l1 3.7l2.5 10.3l1.5 5.9l1.5 5l1 2.5l1 1.6l1 0.6l0.5-0.1l1-1l1-1.9l1-2.6l1-3.1l1.5-5.2l2.5-9.1l1.5-4.7l1-2.5l1-1.8l0.5-0.6l1-0.4l1 0.5l0.5 0.5l1 1.6l1.5 3.4l1 2.7l2 6.1l1.5 4.6l1.5 4.1l1 2.3l1 1.7l1 1.2l1 0.3l1-0.4l1-1.1l1-1.7l1-2l2-5l2.5-6.7l1.5-3.5l1-2l1-1.5l1-0.9l1-0.2l1 0.6l1 1.2l1 1.8l1.5 3.5l2 5.5l2 5.3l1.5 3.2l1 1.6l1 1l1 0.3l1-0.4l1-1l1.5-2.3l1.5-3l3.5-8.3l2-4.2l1-1.8l1-1.3l1-0.9l1-0.3l1 0.3l1 0.9l1 1.4l2 3.8l1.5 3.3l1.5 3.4l2 3.8l1 1.4l1 0.9l1 0.3l1-0.3l1-0.7l1.5-1.9l1.5-2.4l3.5-6.4l1-1.6l1.5-1.8l1-0.7l1-0.2l1 0.3l1.5 1.1l2.5 3.3l2.5 4.1l1 1.7l1.5 2.2l1.5 1.7l1.5 1l1 0.1l1.5-0.7l2-2.2l1.5-2.3l3.5-5.8l1-1.4l1-1.1l1-0.7l1.1-0.3l0.9 0.1l2.5 1.3l3.5 3.4l4 4.2l2.5 1.7l1.6 0.3l0.9-0.1l1-0.5l1.5-1.2l5-5.8l1.5-1.5l1.5-1l1-0.4l1.5 0.2l2 1.4l3 3.5l2 2.5l2 1.8l1 0.5l1 0.1l2-0.6l2.5-1.9l4.5-4.5l2-1.6l1.5-0.7l1.5-0.2l1.5 0.4l1.5 0.9l1.5 1.2l3.5 3.4l2 1.7l1.5 0.9l1.5 0.5l1.5-0.1l2.5-1.3l1.5-1.2l2-1.9l2.5-2.1l1.5-0.9l1.5-0.5l2 0.2l2.5 1.3l1.9 1.5"/>
<path stroke="#0000ff" d="M308.5 268.6h1.5l0.5 5h2.5l0.5-5h81.5l0.5 5h2.5l0.5-5h33.5l0.5-0.9l0.5-2.3l0.5-2.7l0.5-2.4l0.5-1.3h0.1l0.4 4.9l0.5 15.9l0.5 20.2l0.5 24.2l0.5 31.6l0.5 37.2l0.5 41.3l0.5 43.6l0.3 22.1l0.2 24.8l0.5 60.7l0.5 65.8l0.5 58.9l0.5 39.8l0.5 23.3l0.5 18.2l0.5 15l1 27.1l1 27.7l0.5 13l0.5 11.9l0.5 10.1l0.5 7.8l0.5 5.1l0.5 1.8l0.5-15.7l0.5-39.9l0.5-53.6l0.5-56.7l0.5-49l0.5-30.8l0.3-5.3l0.2-1.2l0.5-2.2l1-3.7l1-2.8l1-2.1l1-1.3l1-0.6l0.5-0.1l0.5 5.3l0.5 14.4l0.5 21.7l0.5 26.7l0.5 29.7l0.5 30.9l0.5 29.7l0.5 26.7l0.5 21.7l0.5 14.4l0.5 5.3l0.5-1.6l0.5-4.7l0.5-7.5l0.5-9.8l0.5-11.8l0.5-13.5l0.5-14.9l0.5-15.9l0.5-16.6l1-33.9l0.5-16.6l0.5-15.9l0.5-14.9l0.5-13.5l0.5-11.8l0.5-9.8l0.5-7.5l0.5-4.7l0.5-1.6l0.5 1.5l0.5 4.2l0.5 6.6l0.5 8.7l0.5 10.3l0.5 11.7l0.5 12.6l1.5 40.2l0.5 13l0.5 12.2l0.5 11l0.5 9.6l0.5 7.6l0.5 5.5l0.5 2.9l0.2 0.4l0.3-0.2l0.5-1.8l0.5-3.3l0.5-4.8l0.5-6.2l0.5-7.2l0.5-8.4l0.5-9.1l0.5-10l0.5-10.5l0.5-10.9l1.5-34l0.5-11.2l0.5-10.9l0.5-10.5l0.5-10l0.5-9.1l0.5-8.4l0.5-7.2l0.5-6.2l0.5-4.8l0.5-3.3l0.5-1.8l0.3-0.2l0.2 0.7l0.5 4.8l0.5 8.5l0.5 10.7l0.5 11.8l0.5 11.4l0.5 9.7l0.5 6.8l0.5 2.6l0.5-1.7l0.5-4.3l0.5-6.2l1-14.1l0.5-6.2l0.5-4.3l0.5-1.7l0.5 0.8l0.5 2.4l0.5 3.8l0.5 5l0.5 6.2l0.5 7.2l0.5 8.1l0.5 8.8l0.5 9.4l0.5 9.9l0.5 10.2l1.5 31.4l0.5 10.2l0.5 9.9l0.5 9.4l0.5 8.8l0.5 8.1l0.5 7.2l0.5 6.2l0.5 5l0.5 3.8l0.5 2.4l0.5 0.8l0.5-0.8l0.5-2.1l0.5-3.4l0.5-4.4l0.5-5.2l0.5-5.9l0.5-6.2l1-13.1l1-12.4l0.5-5.4l0.5-4.8l0.5-3.8l0.5-2.7l0.5-1.3l2.5-2.7l2.5-1.7l2-0.6h0.5l0.5 0.8l0.5 2.3l0.5 3.4l0.5 4.1l1 8.8l0.5 4.1l0.5 3.4l0.5 2.3l0.5 0.8l0.5-0.3l0.5-0.7l1-2.5l1.5-4.6l0.5-1.3l0.5-1l0.5-0.6l2.5-1.5l2-0.9l0.5 1.3h1l0.5-5h1l0.5 5h13.5l0.5 5h1l0.5-5h4.5l0.5-5h1l0.5 5h0.5l0.5 5h1l0.5-5h2l0.5 5h1l0.5-5h3.5l0.5 5h0.5l0.5-10h1l0.5 10h2l0.5-5h4.5l0.5 5h1l0.5-10h1l0.5 5h0.5l0.5 5h1l0.5-5h2l0.5 5h2l0.5-5h7.5l0.5-5h0.5l0.5 5h2.5l0.5-5h4.5l0.5 5h2l0.5-5h1l0.5 5h2l0.5-5h1l0.5 5h0.5l0.5-5h3.5l0.5 5h1l0.5 5h0.5l0.5 10h1l0.5 5h0.5l0.5 10h1l0.5 10h1l0.5 25h0.5l0.5 10h1l0.5 10h0.5l0.5 15h1.3l0.2-5h6l0.5-10h1l0.5-5h0.5l0.5-5h1l0.5-30h0.5l0.5-30h1l0.5-25h1l0.5-15h0.5l0.5-10h1l0.5-15h0.5l0.5-5h1l0.5-5h1l0.5 5h0.5l0.5 10h1l0.5 20h0.5l0.5 5h1l0.5 10h2l0.5 5h5l0.5-5h0.5l0.5-5h1l0.5 5h0.5l0.5-10h2.5l0.5-5h0.5l0.5 5h2l0.5 10h1l0.5-5h1l0.5-5h2l0.5-5h2l0.5 5h1l0.5 10h7l0.5-5h2l0.5 5h1l0.5-5h1l0.5-5h2l0.5 5h6l0.5 5h0.5l0.5 5h3.5l0.5-5h2l0.5-5h1l0.5 5h2l0.5-5h7.5l0.5-5h0.5l0.5 5h1l0.5-5h1l0.5 5h0.5l0.5-5h1l0.5 5h0.5l0.5-5h6l0.5 10h3.5l0.5 5h5l0.5-5h0.5l0.5 5h1l0.5-5h0.5l0.5 5h1l0.5-5h1l0.5-5h0.5l0.5 10h1l0.5-5h0.5l0.5 5h1l0.5-5h7.5l0.5 5h0.5l0.5-5h3.5l0.5 5h2l0.5-5h7.5l0.5-10h2l0.5-10h1l0.5-15h0.5l0.5-15h1l0.5-15h0.5l0.5-5h1l0.5-15h1l0.5-5h3l0.5 10h2.5l0.5 5h2l0.5 5h2l0.5 15h1l0.5 10h0.5l0.5 25h1l0.5 10h0.5l0.5 20h1l0.5 20h1l0.5 5h0.5l0.5 5h3.5l0.5-5h1l0.5-10h0.5l0.5-10h1l0.5-10h0.5l0.5 5h1l0.5-5h4.5l0.5-5h3.5l0.5 5h2l0.5-5h1l0.5 5h1l0.5-5h2l0.5 5h4.5l0.5-5h2l0.5 5h3.5l0.5-5h8.5l0.5 5h1l0.5-5h1l0.5 5h0.5l0.5-5h3.5l0.5 5h1l0.5-5h0.5l0.5 5h1l0.5-5h0.5l0.5 5h3.5l0.5-5h2l0.5 5h1l0.5-5h1l0.5 5h4.5l0.5-5h1l0.5 5h0.5l0.5-5h1l0.5 5h2l0.5-5h1l0.5 5h0.5l0.5-5h2l0.5 5h1l0.5-5h2l0.5 5h1l0.5-5h7l0.5 5h1l0.5-5h2l0.5 5h1l0.5-5h0.5l0.5 5h1l0.5-5h1l0.5 5h0.5l0.5-5h5l0.5 5h0.5l0.5-5h3.5l0.5 5h4.5l0.5-5h2.5l0.5 5h3l0.5-5h5l0.5 5h2l0.5-5h4.5l0.5 5h1l0.5-5h1l0.5-5h0.5l0.5-5h1l0.5 5h0.5l0.5 10h1l0.5 10h1l0.5 15h0.5l0.5 5h1l0.5 10h0.5l0.5 10h1l0.5 10h1l0.5 10h2l0.5-5h0.5l0.5 5h1l0.5-5h1l0.5-5h0.5l0.5 5h1l0.5-10h2l0.5-10h1l0.5-20h0.5l0.5-15h1l0.5-10h0.5l0.5-10h1l0.5-10h1l0.5-10h0.5l0.5-5h3.5l0.5 10h1l0.5 5h0.5l0.5 10h1l0.5 5h0.5l0.5 5h1l0.5-5h1l0.5-5h0.5l0.5 5h1l0.5-5h2l0.5-5h8.5l0.5 5h1l0.5-5h0.5l0.5 5h1l0.5-5h1l0.5 5h2l0.5-5h0.5l0.5 5h2.5l0.5-5h4.5l0.5 5h1l0.5-5h2l0.5 5h0.5l0.5-5h7.5l0.5 5h4.5l0.5-5h2.5l0.5 5h2l0.5-5h6l0.5 5h0.5l0.5-5h2.5l0.5 5h0.5l0.5-5h2l0.5 5h1l0.5-5h1l0.5 5h2l0.5-5h2l0.5 5h1l0.5-5h2l0.5 5h0.5l0.5-5h5l0.5 5h0.5l0.5-5h1l0.5 5h3.5l0.5-5h10l0.5 5h3l0.5-5h3.5l0.5 5h1l0.5-5h10l0.5 5h0.5l0.5-5h1l0.5-5h0.5l0.5 5h2.5l0.5 5h0.5l0.5-5h1l0.5 5h0.5l0.5-5h1l0.5 5h1l0.5-5h0.5l0.5 5h1l0.5-5h2l0.5 5h3.5l0.5-5h6l0.5 5h0.5l0.5-5h1l0.5 5h1l0.5-5h0.5l0.5 5h1l0.5-5h3.5l0.5-10h0.5l0.5-5h1l0.5-10h0.5l0.5-5h1l0.5-5h1l0.5-5h0.5l0.5-5h7.5l0.5-5h0.5l0.5 5h1l0.5 5h1l0.5 5h0.5l0.5 5h1l0.5 15h0.5l0.5 10h1l0.5 10h1l0.5 10h0.5l0.5 5h1l0.5 10h4.5l0.5-10h2l0.5-10h2.5l0.3 5h0.7l0.5-5h3.5l0.5 5h1l0.5-5h6l0.5 5h0.5l0.5-5h1l0.5-5h0.5l0.5 5h3.5l0.5 5h1l0.5-5h3.5l0.5 5h0.5l0.5-5h7.5l0.5-5h6l0.5-5h0.5l0.5 5h1l0.5-5h1l0.5 5h0.5l0.5-5h1l0.5 5h2l0.5-5h1l0.5 5h3l0.5-5h1l0.5 5h6l0.5 5h2l0.5-5l0.5 4.1l1.5 0.7l0.5 0.1l0.5-0.2l0.5-0.6l0.5-0.9l0.5-1.3l0.5-1.6l0.5-2l0.5-2.4l0.5-2.7l0.5-3.2l0.5-3.5l0.5-3.9l0.8-6.5l0.2-3.4l0.5-12.6l0.5-19.2l0.5-24.7l0.5-28.7l0.5-31.4l0.5-43.9l0.5-56.1l0.5-60.7l0.5-67.5l0.5-71.8l0.5-96.7l0.5-63.3l0.5-5l0.5-1.8h28l0.5 5.2l0.5 11.6l0.5 35.1l0.5 64.9l0.5 73.1l0.5 59.7l0.5 24.7l0.5-6.3l0.5-16.7l0.5-24.3l0.5-28.8l0.5-30.3l0.5-28.8l0.5-24.3l0.5-16.7l0.5-6.3l0.5 5.9l0.5 15.8l0.5 22.6l0.5 26.4l0.5 27.1l0.5 24.9l0.5 19.5l0.5 11.3l0.2 1.5l0.3-2.9l0.5-20.4l0.5-33.6l0.5-39.3l0.5-37.4l0.5-27.9l0.5-11l0.5 2.7l0.5 7.4l0.5 11l0.5 13.2l1 28.9l0.5 13.2l0.5 11l0.5 7.4l0.5 2.7l0.5-3l0.5-7.9l0.5-11.2l0.5-13.2l0.5-13.6l0.5-12.4l0.5-9.8l0.5-5.6l0.3-0.8l0.2 0.2l0.5 1.8l0.5 3.2l0.5 4.4l0.5 5.2l0.5 5.7l1 11.9l0.5 5.5l0.5 4.8l0.5 3.9l0.5 2.5l0.5 0.9l0.5-1.8l0.5-5l0.5-7.2l0.5-8.9l1-19.2l0.5-8.9l0.5-7.2l0.5-5l0.5-1.8l0.5 2.9l0.5 7.6l0.5 10.6l0.5 11.9l0.5 11.4l0.5 9.4l0.5 5.4l0.3 0.8l0.2-0.8l0.5-6l0.5-10.1l0.5-12.4l0.5-12.8l0.5-11.5l0.5-8.2l0.5-3.2l0.5 0.4l0.5 1.1l0.5 1.8l0.5 2.4l0.5 2.8l1 6.8l2.5 19.6l0.5 3.7l0.5 3.4l0.5 4.4h1l0.5 15h1l0.5 5h0.5l0.5 10h1l0.5 5h2l0.5 5h1l0.5-5h0.5l0.5-10h1l0.5-5h0.5l0.5-10h1l0.5-5h1l0.5-10h0.5l0.5-5h2l0.5 5h6l0.5 5h1l0.5 5h1l0.5 5h0.5l0.5 5h1l0.5-5h0.5l0.5 10h1l0.5 5h4.5l0.5-10h1l0.5 5h1l0.5-10h3l0.5-5h3.5l0.5-10h1l0.5 5h3.5l0.5 5h0.5l0.5 5h5l0.5 5h0.5l0.5 5h1l0.5 5h3.5l0.5-5h0.5l0.5 5h1l0.5-5h2l0.5-5h1l0.5-5h3l0.5-5h5l0.5 5h0.5l0.5-5h1l0.5 5h3.5l0.5 5h3.5l0.5 5h3l0.5-5h1l0.5 5h1l0.5-5h0.5l0.5-5h3.5l0.5-5h10l0.5 10h6l0.5 5h3.5l0.5-5h0.5l0.5 5h1l0.5-10h2l0.5 5h1l0.5-5h0.5l0.5-5h6l0.5 5h1l0.5 5h0.5l0.5 5h6l0.5-5h1l0.5 5h1l0.5-5h0.5l0.5-5h3.5l0.5 5h1l0.5-5h4.5l0.5 5h1l0.5-5h0.5l0.5 5h1l0.5-5h0.5l0.5 5h1l0.5 5h2l0.5-5h1l0.5 5h2l0.5-5h4.5l0.5-5h2.5l0.5 5h2l0.5-5h0.5l0.5 5h2.5l0.5-5h0.5l0.5 5h8.5l0.5 5h3.5l0.5-5h2l0.5 5h1l0.5-5h2l0.5 5h1l0.5-5h2l0.5 5h1l0.5-5h4.5l0.5 5h1l0.5-10h0.5l0.5 10h1l0.5-5h6l0.5 5h0.5l0.5-5h12.5l0.5 5h1l0.5-5h6l0.5-5h1l0.5 5h4.5l0.5 5h1l0.5-5h0.5l0.5 5h1l0.5-5h10l0.5 5h2l0.5-10h0.5l0.5 5h5l0.5 5h0.5l0.5-5h1l0.5 5h2l0.5-5h3.5l0.5 5h1l0.5-5h0.5l0.5 5h1l0.5-5h0.5l0.5-5h1l0.5 10h1l0.5-5h2l0.5 5h0.5l0.5-5h3.5l0.5-5h1l0.5 5h15l0.5 5h2l0.5-5h5l0.5 5h2l0.5-10h0.5l0.5 5h3.5l0.5 5h2l0.5-5h2.5l0.5 5h0.5l0.5-5h5l0.5-5h0.5l0.5 5h1l0.5 5h0.5l0.5-5h1l0.5-5h1l0.5 5h2l0.5 5h0.5l0.5-5h1l0.5 5h1l0.5-10h0.5l0.5 5h1l0.5 0.6h1.4"/>
</g>
<rect x="539.5" y="90.7" width="439.3" height="376.09999999999997" fill="#fff" stroke="#000" stroke-width="1.8"/>
<line x1="549.1" y1="142.0" x2="714.9" y2="142.0" stroke="#000000" stroke-width="10.3"/>
<text transform="translate(734.20 168.70) scale(1.008 1.048)" text-anchor="start">150 W</text>
<line x1="549.1" y1="233.5" x2="714.9" y2="233.5" stroke="#ff0000" stroke-width="10.3"/>
<text transform="translate(734.20 260.20) scale(1.008 1.048)" text-anchor="start">250  W</text>
<line x1="549.1" y1="325.0" x2="714.9" y2="325.0" stroke="#00ff00" stroke-width="10.3"/>
<text transform="translate(734.20 351.70) scale(1.008 1.048)" text-anchor="start">500 W</text>
<line x1="549.1" y1="416.5" x2="714.9" y2="416.5" stroke="#0000ff" stroke-width="10.3"/>
<text transform="translate(734.20 443.20) scale(1.008 1.048)" text-anchor="start">750 W</text>
<text transform="translate(260.50 1031.00) scale(1.008 1.048)" text-anchor="end">-1000</text>
<text transform="translate(260.50 881.66) scale(1.008 1.048)" text-anchor="end">-800</text>
<text transform="translate(260.50 732.32) scale(1.008 1.048)" text-anchor="end">-600</text>
<text transform="translate(260.50 582.98) scale(1.008 1.048)" text-anchor="end">-400</text>
<text transform="translate(260.50 433.65) scale(1.008 1.048)" text-anchor="end">-200</text>
<text transform="translate(260.50 284.31) scale(1.008 1.048)" text-anchor="end">0</text>
<text transform="translate(260.50 134.97) scale(1.008 1.048)" text-anchor="end">200</text>
<text transform="translate(440.08 1113.70) scale(1.008 1.048)" text-anchor="middle">0</text>
<text transform="translate(703.25 1113.70) scale(1.008 1.048)" text-anchor="middle">20</text>
<text transform="translate(966.41 1113.70) scale(1.008 1.048)" text-anchor="middle">40</text>
<text transform="translate(1229.57 1113.70) scale(1.008 1.048)" text-anchor="middle">60</text>
<text transform="translate(1492.74 1113.70) scale(1.008 1.048)" text-anchor="middle">80</text>
<text transform="translate(1755.90 1113.70) scale(1.008 1.048)" text-anchor="middle">100</text>
<text transform="translate(79.90 584.30) rotate(-90) scale(1.008 1.048)" text-anchor="middle">U (V)</text>
<rect x="308.5" y="1147.3" width="1447.4" height="970.3999999999999" fill="none" stroke="#000" stroke-width="5.2"/>
<path d="M440.08 2117.70v28.0M440.08 1147.30v28.0M703.25 2117.70v28.0M703.25 1147.30v28.0M966.41 2117.70v28.0M966.41 1147.30v28.0M1229.57 2117.70v28.0M1229.57 1147.30v28.0M1492.74 2117.70v28.0M1492.74 1147.30v28.0M1755.90 2117.70v28.0M1755.90 1147.30v28.0M308.50 2117.70v14.0M308.50 1147.30v14.0M571.66 2117.70v14.0M571.66 1147.30v14.0M834.83 2117.70v14.0M834.83 1147.30v14.0M1097.99 2117.70v14.0M1097.99 1147.30v14.0M1361.15 2117.70v14.0M1361.15 1147.30v14.0M1624.32 2117.70v14.0M1624.32 1147.30v14.0M308.50 2057.05h-28.0M1755.90 2057.05h-28.0M308.50 1753.80h-28.0M1755.90 1753.80h-28.0M308.50 1450.55h-28.0M1755.90 1450.55h-28.0M308.50 1147.30h-28.0M1755.90 1147.30h-28.0M308.50 1905.42h-14.0M1755.90 1905.42h-14.0M308.50 1602.17h-14.0M1755.90 1602.17h-14.0M308.50 1298.92h-14.0M1755.90 1298.92h-14.0" fill="none" stroke="#000" stroke-width="5.2"/>
<g clip-path="url(#cb)" fill="none" stroke-width="10.2" stroke-linejoin="round" stroke-linecap="round">
<path stroke="#000000" d="M308.5 2078h1l0.5-0.3h1l0.5 4.9h3.5l0.5-9.8h1l0.5 4.9h4.5l0.5-4.9h1l0.5 4.9h2l0.5 4.9h3.5l0.5-9.8h2l0.5 9.8h0.5l0.5-4.9h2.5l0.5 4.9h2l0.5-4.9h0.5l0.5-4.9h1l0.5 9.8h1l0.5-4.9h2l0.5 4.9h0.5l0.5-4.9h6l0.5-4.9h1l0.5 9.8h1l0.5-4.9h13.5l0.5-4.9h1l0.5 4.9h0.5l0.5 4.9h1l0.5-9.8h1l0.5 9.8h0.5l0.5-4.9h1l0.5 4.9h3.5l0.5-4.9h7l0.5-4.9h1l0.5 4.9h2l0.5 4.9h1l0.5-4.9h4.5l0.5-4.9h1l0.5 4.9h0.5l0.5 4.9h3.5l0.5-4.9h7.5l0.5-4.9h0.5l0.5 4.9h2l0.5-4.9h1l0.5 4.9h1l0.5-4.9h0.5l0.5 9.8h1l0.5-4.9h0.5l0.5-4.9h2.5l0.5 9.8h2l0.5-9.8h1l0.5 5.2h1.5l0.5-15.7l0.5-37.5l0.5-44.6l0.5-37.5l0.5-15.7l0.5 22.2l0.5 52.8l0.5 63l0.5 52.8l0.5 22.2h12l0.5-1.3l0.5-3.7l0.5-5.6l0.5-7.1l0.5-8.1l1-17.5l0.5-8.5l0.5-7.8l0.5-6.6l0.5-4.9l0.5-2.9l1.5-4.6l1.5-3.8l1.5-3.1l1.5-2.6l1-1.5l3.5-4.3l2.5-2.8l2.5-3.2l2.5-3.1l2.5-2.8l4.5-4.6l2.5-2.3l2-1.7l3.5-2.9l2-1.5l2.5-1.7l2.5-1.8l2-1.3l2.5-1.7l3-2l2.5-1.6l4-2.5l3.5-2.2l2-1.3l3-2l2-1.5l3-2.2l2-1.5l4-3.1l0.5 4.5h1l0.5-4.9h2l0.5-4.9h1l0.5 4.9h0.5l0.5-4.9h2.5l0.5-4.9h6l0.5-4.9h3l0.5-4.9h1l0.5 4.9h1l0.5-4.9h2l0.5-4.9h0.5l0.5 4.9h1l0.5-4.9h1l0.5 4.9h0.5l0.5-4.9h1l0.5-4.9h0.5l0.5 4.9h1l0.5 4.9h1l0.5-9.8h2l0.5 4.9h4.5l0.5-4.9h1l0.5-4.9h0.5l0.5-4.9h5l0.5-4.9h0.5l0.5 4.9h2.5l0.5-4.9h2l0.5 4.9h0.5l0.5-9.8h2.5l0.5 4.9h2l0.5-4.9h2l0.5-4.9h1l0.5-4.9h0.5l0.5 4.9h1l0.5-4.9h2l0.5-4.9h8.5l0.5-4.9h1l0.5-4.9h0.5l0.5 4.9h2.5l0.5-4.9h0.5l0.5 4.9h3.5l0.5-4.9h2l0.5 4.9h2l0.5-4.9h2.5l0.5-4.9h0.5l0.5 9.8h1l0.5-4.9h3.5l0.5-39.2h0.5l0.5-14.7h1l0.5-9.8h0.5l0.5 4.9h1l0.5-4.9h1l0.5-4.9h2l0.5 4.9h0.5l0.5-24.5h1.2l0.3-4.9h1l0.5-4.9h0.5l0.5 4.9h1l0.5 4.9h2l0.5 4.9h3.5l0.5 14.7h2.2l0.3 9.8h3.5l0.5 4.9h4.5l0.5 4.9h1l0.5 4.9h2l0.5 4.9h1l0.5 4.9h0.5l0.5 9.8h2l0.5 9.8h2.5l0.5 4.9h3l0.5-9.8h1l0.5 4.9h2l0.5-4.9h1l0.5 4.9h0.5l0.5-4.9h7.5l0.5-4.9h1l0.5-4.9h0.5l0.5 4.9h1l0.5-4.9h3.5l0.5-4.9h4.5l0.5-4.9h7.5l0.5-4.9h2l0.5 4.9h0.5l0.5-4.9h5l0.5-4.9h0.5l0.5 4.9h1l0.5 4.9h1l0.5-4.9h0.5l0.5-4.9h1l0.5 4.9h3.5l0.5 4.9h0.5l0.5-4.9h1l0.5 4.9h0.5l0.5-4.9h1l0.5 4.9h1l0.5-4.9h2l0.5-4.9h0.5l0.5 9.8h3.5l0.5-4.9h2l0.5 4.9h1l0.5-4.9h3.5l0.5 4.9h0.5l0.5-4.9h5l0.5 4.9h0.5l0.5-4.9h1l0.5-4.9h1l0.5 4.9h0.5l0.5-4.9h3.5l0.5 4.9h4.5l0.5-4.9h1l0.5 4.9h1l0.5-4.9h3l0.5 4.9h1l0.5-4.9h2l0.5 4.9h2l0.5-4.9h1l0.5 4.9h1l0.5 4.9h0.5l0.5 4.9h1l0.5 4.9h0.5l0.5 4.9h1l0.5 4.9h1l0.5 4.9h3l0.5-4.9h1l0.5 14.7h1l0.5 4.9h0.5l0.5 4.9h1l0.5-4.9h0.5l0.5 4.9h2.5l0.5 4.9h0.5l0.5-4.9h1l0.2-4.9h0.8l0.5-4.9h1l0.5-24.5h2l0.5-14.7h3.5l0.5-9.8h1l0.5 4.9h3l0.5-4.9h1l0.5-34.3h1l0.5-4.9h0.5l0.5-4.9h1l0.5-4.9h0.5l0.5 4.9h1l0.5-9.8h6l0.5-4.9h4.5l0.5-4.9h1l0.5 4.9h2l0.5-4.9h1l0.5-4.9h0.5l0.5 4.9h2.5l0.5-4.9h4.5l0.5-4.9h2l0.5 4.9h2l0.5-4.9h3.5l0.5-4.9h1l0.5 9.8h0.5l0.5-4.9h1l0.5-4.9h1l0.5 4.9h0.5l0.5-4.9h2l0.5-4.9h1l0.5-4.9h2l0.5 4.9h1l0.5-9.8h2l0.5-4.9h1l0.5 4.9h0.5l0.5-4.9h2l0.5-4.9h9l0.5-4.9h2l0.5 4.9h0.5l0.5-4.9h1l0.5-4.9h1l0.5 4.9h0.5l0.5-4.9h3.5l0.5 4.9h1l0.5-4.9h0.5l0.5-4.9h2l0.5 9.8h1l0.5-4.9h4.5l0.5-4.9h2.5l0.5 4.9h2l0.5-9.8h2l0.5 4.9h1l0.5-4.9h3l0.5-4.9h3.5l0.5-4.9h2l0.5-4.9h6l0.5-4.9h1l0.5-4.9h1l0.5 4.9h2l0.5-4.9h0.5l0.5 4.9h1l0.5-4.9h3.5l0.5-4.9h0.5l0.5 4.9h2.5l0.5-4.9h0.5l0.5-4.9h1l0.5-4.9h0.5l0.5 4.9h1l0.5-4.9h2l0.5-9.8h1l0.5-4.9h0.5l0.5-24.5h1.2l0.3-4.9h1l0.5-4.9h0.5l0.5-4.9h1l0.5-4.9h0.5l0.5-9.8h1l0.5-4.9h1l0.5-4.9h0.5l0.5 4.9h2l0.5-4.9h1l0.5 4.9h1l0.5-4.9h0.5l0.5 4.9h1l0.5-4.9h0.5l0.5 4.9h1l0.5 4.9h1l0.5 4.9h0.5l0.5 4.9h1l0.5 4.9h2l0.5 4.9h1l0.5 4.9h0.5l0.5 9.8h1l0.5 4.9h2l0.5 9.8h1l0.5-4.9h4.5l0.5 4.9h1l0.5-4.9h0.5l0.5 4.9h2l0.5-4.9h3.5l0.5 4.9h2l0.5 4.9h2.5l0.5-4.9h2l0.5 4.9h2l0.5-4.9h4.5l0.5-4.9h1l0.5 4.9h3.5l0.5-9.8h2l0.5-4.9h1l0.5 4.9h0.5l0.5-4.9h3.5l0.5-4.9h1l0.5-4.9h2l0.5-4.9h0.5l0.5-4.9h1l0.5-4.9h1l0.5-4.9h0.5l0.5-4.9h1l0.5-4.9h2l0.5-4.9h1l0.5 9.8h0.5l0.5-4.9h1l0.5-4.9h2l0.5 4.9h1l0.5-4.9h4.5l0.5-4.9h3.5l0.5-4.9h0.5l0.5-4.9h1l0.5-4.9h1l0.5 4.9h3l0.5-4.9h3.5l0.5-4.9h2l0.5 4.9h1l0.5-4.9h1l0.5-4.9h0.5l0.5-4.9h3.5l0.5-4.9h2l0.5-4.9h1l0.5-9.8h0.5l0.5 4.9h2.5l0.5-4.9h3l0.5-9.8h3.5l0.5-4.9h3.5l0.5-4.9h1l0.5-4.9h2l0.5-4.9h0.5l0.5-9.8h1l0.5 4.9h2l0.5-9.8h1l0.5-4.9h3.5l0.5-9.8h4.5l0.5-4.9h1l0.5-4.9h2l0.5 4.9h0.5l0.5-4.9h2.5l0.5-4.9h0.5l0.5-4.9h1l0.5 4.9h0.5l0.5-4.9h1l0.5-4.9h2l0.5-4.9h2l0.5-4.9h1l0.5-4.9h1l0.5 4.9h0.5l0.5-4.9h6l0.5-4.9h1l0.5 4.9h0.5l0.5 4.9h2.5l0.5 9.8h0.5l0.5 4.9h1l0.5 9.8h0.5l0.5-4.9h1l0.5 9.8h1l0.5 9.8h2l0.5 9.8h3.5l0.5 4.9h6l0.5-4.9h0.5l0.5-4.9h1l0.2-4.9h0.8l0.5-4.9h1l0.5-9.8h1l0.5-4.9h0.5l0.5-4.9h1l0.5-4.9h0.5l0.5-4.9h2.5l0.5-4.9h2l0.5-4.9h0.5l0.5-9.8h2.5l0.5-4.9h2l0.5-4.9h3.5l0.5-14.7h0.5l0.5 4.9h1l0.5-4.9h0.5l0.5 4.9h1l0.5-4.9h8.5l0.5-4.9h3.5l0.5 4.9h1l0.5-4.9h4.5l0.5-4.9h1l0.5-4.9h0.5l0.5-4.9h1l0.5-9.8h0.5l0.5-9.8h1l0.5 4.9h1l0.5-4.9h0.5l0.5-4.9h1l0.5 4.9h2l0.5 4.9h1l0.5-9.8h0.5l0.5 4.9h1l0.5-4.9h0.5l0.5-4.9h1l0.5-4.9h2.2l0.3-4.9h2l0.5-9.8h3.5l0.5-4.9h2l0.5-4.9h2.5l0.5-4.9h0.5l0.5-4.9h0.5l0.5 1.4l2-4.5l2-4.5l3-5.8l1.5-2.6l1-1.2l0.8-0.3l0.2 0.3l0.5 2.9l0.5 5.6l0.5 7.5l0.5 9l0.5 9.7l0.5 14.6l0.5 21.5l0.5 24.1l0.5 22.7l0.5 17.1l0.5 12l0.5 10.3l0.5 9l0.5 8l1 14.9l0.5 7.6l0.5 8.3l0.5 9.2l0.5 10.7l0.5 12.8l0.5 14.9l1 32.4l0.5 15.7l0.5 14.2l0.5 12.4l0.5 11.4l1 21.9l0.5 11.6l0.5 12.7l0.5 13.7l0.5 14.3l0.5 14.9l0.5 15.7l0.5 16.4l0.5 17.4l0.5 18.3l0.5 19.3l0.5 22.3l0.5 25.9l0.5 27.7l0.5 27.4l0.5 25.3l0.5 21.4l0.5 19.4l0.5 19.7l0.5 18.4l0.5 15.7l0.5 11.3l0.5 5.5l2.2 5l0.8-384.4l1 152.4l1 1.2l1 0.5l1.5 0.2l1 0.4l1.2 1.4l0.3 11.6l0.5 31.7l0.5 14.5l0.5 11.4l0.5 9.4l0.5 8.6l0.5 9.1l0.5 10l1.5 32.2l0.5 10.3l0.5 9.6l0.5 8.6l0.5 7.2l0.5 5.5l0.5 3.6l1 4.7l1 4.3l1.5 5.5l1 3.1l1 2.6l1 2.1l1 1.7l1 1.2l1.5 0.8l1.5 0.3l2.5 0.3l3 0.2l3.5 0.2l3 0.2l2.5 0.2l2.5 0.3l2 0.1l1.5 0.3l1.5 0.3l0.5 0.7l0.5 1.3l1.5 5.1l0.5 1.4l0.5 1l0.5 0.4l0.5-0.4l0.5-1l0.5-1.5l1.5-5.2l0.5-1.2l0.7-0.7h7.8l0.5 4.3h2.5l0.5-4.9h0.5l0.5 4.9h1l0.5-9.8h0.5l0.5 9.8h5l0.5-9.8h0.5l0.5 4.9h1l0.5-4.9h1l0.5 9.8h0.5l0.5-4.9h1l0.5 4.9h2l0.5-4.9h1l0.5-4.9h0.5l0.5 4.9h1l0.5 4.9h0.5l0.5-9.8h2.5l0.5 4.9h0.5l0.5-4.9h2l0.5 9.8h1l0.5-4.9h1l0.5 4.9h0.5l0.5-4.9h2l0.5 4.9h1l0.5-4.9h1l0.5-4.9h0.5l0.5 4.9h1l0.5 4.9h0.5l0.5-4.9h1l0.5 4.9h1l0.5-4.9h0.5l0.5 4.9h5l0.5-4.9h0.5l0.5 4.9h1l0.5-4.9h2l0.5 4.9h1l0.5-4.9h4.5l0.5 4.9h1l0.5-4.9h3l0.5 4.9h1l0.5-4.9h8.5l0.5 4.9h1l0.5-9.8h0.5l0.5 9.8h1l0.5-4.9h2l0.5 4.9h2l0.5-4.9h2.5l0.5 4.9h2l0.5-4.9h0.5l0.5 4.9h3.5l0.5-4.9h2l0.5 4.9h1l0.5-4.9h1l0.5 4.9h0.5l0.5-4.9h1l0.5 4.9h2l0.5-4.9h1l0.5-4.9h0.5l0.5 9.8h1l0.5-4.9h3.5l0.5 4.9h0.5l0.5-4.9h5l0.5 4.9h3l0.5-4.9h1l0.5 4.9h1l0.5-4.9h0.5l0.5-4.9h1l0.5 4.9h0.5l0.5-4.9h1l0.5 9.8h2l0.5-4.9h1l0.5 4.9h2l0.5-4.9h1l0.5 4.9h0.5l0.5-4.9h3.5l0.5 4.9h1l0.5-4.9h0.5l0.5-4.9h1l0.5 9.8h0.5l0.5-4.9h1l0.5 4.9h2l0.5-9.8h1l0.5 4.9h0.5l0.5 4.9h1l0.5-4.9h2l0.5 4.9h1l0.5-4.9h2l0.5 4.9h1l0.5-4.9h2l0.5 4.9h0.5l0.5-4.9h7.5l0.5 4.9h3.5l0.5-4.9h2l0.5 4.9h3.5l0.5-4.9h2l0.5 4.9h1l0.5-4.9h2l0.5 4.9h2l0.5-4.9h1l0.5-4.9h2l0.5 9.8h0.5l0.5-4.9h1l0.5 4.9h1l0.5-4.9h9.5l0.5 4.9h1l0.5-4.9h1l0.5 4.9h3l0.5-9.8h2.5l0.5 9.8h2l0.5-9.8h2l0.5 9.8h1l0.5-4.9h3l0.5 4.9h2.5l0.5-4.9h0.5l0.5 4.9h1l0.5-4.9h2l0.5 4.9h1l0.5-9.8h0.5l0.5 4.9h1l0.5-4.9h2l0.5 4.9h4.5l0.5-4.9h1l0.5 4.9h2l0.5-4.9h1l0.5 4.9h2l0.5-4.9h1l0.5 9.8h0.5l0.5-4.9h5l0.5 4.9h0.5l0.5-4.9h2l0.5-4.9h1l0.5 4.9h3.5l0.5 4.9h0.5l0.5-4.9h2.5l0.5 4.9h6l0.5-9.8h0.5l0.5 4.9h3.5l0.5-4.9h1l0.5 9.8h2l0.5-4.9h0.5l0.5-4.9h1l0.5 4.9h6l0.5 4.9h1l0.5-4.9h2l0.5 4.9h0.5l0.5-4.9h1l0.5 4.9h1l0.5-4.9h4.5l0.5 4.9h2l0.5-4.9h1l0.5-4.9h2l0.5 4.9h1l0.5 4.9h0.5l0.5-4.9h1l0.5 4.9h2l0.5-4.9h2l0.5 4.9h1l0.5-9.8h2l0.5 4.9h1l0.5 4.9h3l0.5-4.9h1l0.5 4.9h1.5l0.5-3.6h1.4"/>
<path stroke="#ff0000" d="M308.5 2072h1l0.5-4.1h2.5l0.5 4.9h0.5l0.5-4.9h5l0.5 4.9h0.5l0.5-4.9h1l0.5 4.9h1l0.5-4.9h0.5l0.5 9.8h1l0.5-9.8h2l0.5 4.9h1l0.5 4.9h0.5l0.5-4.9h1l0.5 4.9h0.5l0.5-4.9h5l0.5-4.9h0.5l0.5 9.8h2.5l0.5-4.9h2l0.5-4.9h4.5l0.5 4.9h2l0.5-4.9h1l0.5 4.9h2l0.5 4.9h1l0.5-9.8h0.5l0.5 4.9h7.5l0.5 4.9h1l0.5-4.9h2l0.5 4.9h0.5l0.5-4.9h1l0.5 4.9h1l0.5-4.9h2l0.5-4.9h0.5l0.5 4.9h1l0.5-4.9h1l0.5 4.9h0.5l0.5-4.9h1l0.5 4.9h0.5l0.5 4.9h1l0.5-9.8h1l0.5 4.9h3l0.5-4.9h1l0.5 4.9h4.5l0.5 4.9h1l0.5-4.9h1l0.5-4.9h2l0.5 9.8h0.5l0.5-4.9h2.5l0.5-4.9h0.5l0.5 4.9h2l0.5 4.9h1l0.5-9.8h1l0.5 9.8h0.5l0.5-9.8h1l0.5 4.9h7l0.5 4.9h1l0.5-9.8h2l0.5 4.9h1l0.5-4.9h0.5l0.5 4.9l0.5-0.8h3l0.5-12.7l0.5-31.9l1-82.8l0.5-31.9l0.5-12.7l0.5 13.3l0.5 34.3l0.5 46.9l0.5 51l0.5 46.9l0.5 34.3l0.5 13.3h7l0.5-1.1l0.5-2.9l0.5-4.6l0.5-6l0.5-6.9l0.5-7.6l1-16.3l0.5-8l0.5-7.5l0.5-6.7l0.5-5.6l0.5-4.3l0.5-2.5l1.5-4.4l1-2.6l1.5-3.3l1.5-2.8l2-3.1l3-3.7l2.5-2.7l3-3.6l3-3.7l2.5-2.8l2.5-2.6l4-3.4l3-1.9l2.5-1.3l1.5-0.6l3.5-1.5l2-0.7l2.5-0.8l1.5-0.4l0.5 4.8h1l0.5-9.8h1l0.5 4.9h0.5l0.5-4.9h1l0.5 4.9h1l0.5-4.9h0.5l0.5 4.9h2l0.5-4.9h1l0.5-4.9h1l0.5 4.9h2l0.5-4.9h0.5l0.5 4.9h1l0.5-4.9h2l0.5 4.9h2l0.5-4.9h1l0.5-4.9h0.5l0.5 4.9h1l0.5-4.9h1l0.5-4.9h0.5l0.5 4.9h1l0.5-4.9h3.5l0.5-4.9h2l0.5 4.9h0.5l0.5-4.9h1l0.5-4.9h1l0.5 4.9h2l0.5-4.9h0.5l0.5-4.9h3.5l0.5 4.9h2l0.5-4.9h1l0.5-4.9h3.5l0.5-4.9h0.5l0.5 4.9h1l0.5-4.9h6l0.5-4.9h1l0.5 4.9h0.5l0.5-4.9h2l0.5-4.9h1l0.5 4.9h1l0.5-4.9h2l0.5 4.9h0.5l0.5-4.9h2.5l0.5 4.9h0.5l0.5-4.9h1l0.5-4.9h0.5l0.5 4.9h2.5l0.5-4.9h2l0.5 4.9h0.5l0.5-4.9h1l0.5 4.9h2l0.5-4.9h2l0.5-4.9h1l0.5 4.9h2l0.5-4.9h2l0.5 4.9h1l0.5-9.8h2l0.5 4.9h1l0.5-4.9h4.5l0.5-4.9h1l0.5 4.9h0.5l0.5-4.9h2.5l0.5-4.9h0.5l0.5 4.9h2l0.5-9.8h1l0.5 4.9h1l0.5-4.9h0.5l0.5 4.9h2l0.5-4.9h1.2l0.3 4.9h1l0.5 4.9h0.5l0.5-4.9h1l0.5 4.9h0.5l0.5 4.9h2.5l0.5 4.9h3l0.5 4.9h1l0.5-4.9h6l0.5 4.9h1l0.5-4.9h3l0.5 4.9h5l0.5-4.9h3.5l0.5-4.9h0.5l0.5-4.9h1l0.5-4.9h3.5l0.5-4.9h0.5l0.5-4.9h2l0.5-4.9h1l0.5 4.9h1l0.5-4.9h2l0.5-4.9h0.5l0.5 4.9h3.5l0.5-9.8h1l0.5 4.9h0.5l0.5-4.9h1l0.5 4.9h2l0.5-4.9h2l0.5-4.9h1l0.5 9.8h4.5l0.5-9.8h1l0.5 4.9h1l0.5-4.9h0.5l0.5 4.9h3.5l0.5-4.9h4.5l0.5-9.8h1l0.5 4.9h2l0.5-4.9h1l0.5-4.9h3.5l0.5-4.9h0.5l0.5 4.9h3.5l0.5-4.9h1l0.5 4.9h0.5l0.5-9.8h1l0.5 4.9h0.5l0.5-4.9h2.5l0.5 4.9h2l0.5-4.9h2l0.5 4.9h1l0.5-4.9h3l0.5-4.9h1l0.5 4.9h2l0.5-4.9h3.5l0.5 4.9h1l0.5-4.9h0.5l0.5 4.9h1l0.5-9.8h2l0.5 4.9h1l0.5-4.9h2l0.5 4.9h0.5l0.5-4.9h1l0.5-4.9h1l0.5 4.9h3l0.5-4.9h1l0.5 4.9h3.5l0.5-4.9h3.5l0.5 4.9h2l0.5-9.8h3.5l0.5 4.9h0.5l0.5-4.9h1l0.5 4.9h0.5l0.5-4.9h1l0.5-4.9h1l0.5 4.9h0.5l0.5-4.9h2l0.5-4.9h5l0.5-4.9h0.5l0.5 4.9h1l0.5-4.9h4.5l0.5 4.9h2.5l0.5-4.9h0.5l0.5-4.9h1l0.5 4.9h2l0.5-4.9h3.5l0.5 4.9h0.5l0.5-9.8h1l0.5 4.9h1l0.5-4.9h12.5l0.5-4.9h2l0.5 4.9h2l0.5-4.9h1l0.5 4.9h0.5l0.5-4.9h2l0.5-4.9h1l0.5-4.9h1l0.5 4.9h2l0.5-4.9h0.5l0.5-4.9h1l0.5-4.9h3.5l0.5 4.9h3.5l0.5-4.9h2l0.5-4.9h2l0.5 4.9h1l0.5-9.8h0.5l0.5 9.8h1l0.5-4.9h0.5l0.5-4.9h1l0.5 4.9h1l0.5-4.9h0.5l0.5 4.9h1l0.5-4.9h4.5l0.5-4.9h2l0.5 4.9h1l0.5-4.9h1l0.5-4.9h3l0.5-4.9h1l0.5 4.9h2l0.5-4.9h2l0.5-4.9h1l0.5-4.9h2l0.5 4.9h1l0.5-4.9h4.5l0.5-4.9h1l0.5-4.9h0.5l0.5 4.9h1l0.5-4.9h2l0.5-4.9h3.5l0.5-4.9h1l0.5 4.9h2l0.5-4.9h4.5l0.5-4.9h1l0.5-4.9h2l0.5 4.9h1l0.5-4.9h4.5l0.5-4.9h1l0.5 4.9h2l0.5-9.8h4.5l0.5 4.9h1l0.5-4.9h4.5l0.5-4.9h6l0.5-4.9h2l0.5 4.9h1l0.5-4.9h1l0.5-4.9h2l0.5 4.9h3.5l0.5-9.8h0.5l0.5 4.9h3.5l0.5-4.9h4.5l0.5-4.9h3.5l0.5 4.9h1l0.5-4.9h2l0.5-4.9h1l0.5 4.9h0.5l0.5-4.9h1l0.5-4.9h0.5l0.5 4.9h2.5l0.5-4.9h0.5l0.5 4.9h1l0.5-4.9h2l0.5 4.9h1l0.5-4.9h2l0.5-4.9h3.5l0.5 4.9h0.5l0.5-9.8h1l0.5 4.9h3.5l0.5-4.9h0.5l0.5-4.9h5l0.5-4.9h0.5l0.5-4.9h1l0.5 4.9h0.5l0.5-4.9h3.5l0.5-4.9h2l0.5 4.9h2.5l0.5-9.8h0.5l0.5 4.9h1l0.5-9.8h3.5l0.5-4.9h2l0.5-4.9h7l0.5-4.9h1l0.5 4.9h1l0.5-4.9h0.5l0.5-4.9h1l0.5 4.9h0.5l0.5-4.9h1l0.5 4.9h1l0.5-4.9h2l0.5 4.9h0.5l0.5-4.9h6l0.5-4.9h1l0.5-4.9h2l0.5-4.9h1l0.5-4.9h0.5l0.5-4.9h1l0.5-4.9h2l0.5-9.8h2l0.5-4.9h5l0.5 4.9h0.5l0.5-9.8h1l0.5 4.9h1l0.5-4.9h2l0.5 4.9h0.5l0.5-4.9h1l0.5-4.9h2l0.5 4.9h5l0.5-4.9h3l0.5-4.9h1l0.5-4.9h1l0.5 4.9h2l0.5-9.8h0.5l0.5 4.9h3.5l0.5-4.9h2l0.5-4.9h1l0.5 4.9h3.5l0.5-4.9h2l0.5 4.9h1l0.5-4.9h2l0.5 4.9h4.5l0.5 4.9h1l0.5-4.9h0.5l0.5-4.9h1l0.5-9.8h1l0.5 4.9h0.5l0.5-4.9h1l0.5-9.8h4.5l0.5-4.9h5l0.5-4.9h0.5l0.5-4.9h1l0.5 4.9h0.5l0.5-9.8h2.5l0.5-4.9h2l0.5-4.9h0.5l0.5-4.9h6l0.5-4.9h1l0.5-4.9h3.5l0.5 4.9h0.5l0.5-4.9h1l0.5 4.9h1l0.5-4.9h3l0.5-4.9h3.5l0.5 4.9h1l0.5-4.9h0.5l0.5-4.9h5l0.5 4.9h0.5l0.5-9.8h1l0.5 4.9h1l0.5-4.9h2l0.5 4.9h0.5l0.5-9.8h2.5l0.5-4.9h2l0.5 4.9h2l0.5-9.8h4.5l0.5-4.9h1l0.5 4.9h1l0.5-9.8h0.5l0.5 9.8h1l0.5-4.9h0.5l0.5-4.9h1l0.5-4.9h3.5l0.5-4.9h0.5l0.5-4.9h5l0.2-4.9h2.3l0.5 4.9h1l0.5-4.9h0.5l0.5 4.9h2l0.5-4.9h2.5l0.5-4.9h3l0.5 9.8h5l0.5 4.9h0.5l0.5-4.9h2.5l0.5 4.9h0.5l0.5-4.9h1l0.5 4.9h0.5l0.5-9.8h2.5l0.5-4.9h2l0.5-4.9h4.5l0.5-9.8h1l0.5-4.9h0.5l0.5 4.9h1l0.5-4.9h2l0.5-4.9h3.5l0.5-4.9h0.5l0.5-2.6l1-4l1-4.5l0.5-2l0.5-1.6l0.5-1.1l0.5-0.4l0.5 0.5l0.5 1.6l0.5 2.7l0.5 3.9l0.5 5l0.5 6.3l0.5 29.2l0.5 55.7l0.5 55.1l0.5 47.6l0.5 42.4l0.5 36.7l0.5 21.3l0.5 3.4l0.5 1.9l1 2l0.5 1.7l0.5 3l1 25l0.5 3.8l0.5 3l0.5 2.3l0.5 1.7l0.5 1.4l1 2.2l1 2.8l0.5 1.9l0.5 2.6l0.5 3.3l0.5 5.6l0.5 8.6l0.5 11.1l0.5 12.9l0.5 13.8l0.5 14.2l0.5 13.8l0.5 14.8l0.5 17.1l0.5 18.4l0.5 18.8l0.5 18.3l0.5 16.9l0.5 14.5l0.5 11.2l0.5 9.1l0.5 8.8l0.5 8.4l0.5 8l0.5 7.5l0.5 7l0.5 6.5l0.5 5.8l0.5 5.3l0.5 4.5l0.5 3.8l0.5 3.1l0.5 2.2l1 3.5l1 3.1l1.5 4.1l1 2.3l1.5 2.9l1 1.5l1.5 1.7l1 0.7l2 0.8l2.5 0.8l2 0.5l4.5 1l2.5 0.3l5 0.1l2.5-0.5l3.5-1.3l2.7-1.5l0.8-0.9l1-1.8l0.5-1.2l1-3l1-3.5l1-3.9l3-12.6l1-4l0.7-2.4l0.8-3.4l1-4.7l1.5-7.4l1-4.4l0.5-1.8l0.5-1.5l0.5-1.1l0.5-0.6l0.5-0.1l0.5 0.4l0.5 0.9l0.5 1.3l0.5 1.7l1 4.2l1.5 7.6l1.5 8l1 4.8l0.5 2.1l3.5 11.4l1 2.9l1 2.4l1 1.6l0.8 0.7l2.7 0.6l2.5 0.2l2.5 0.3l2.5 0.3l1.5 0.2l1.5 0.5l1.5 0.8l3.5 2.6l2 1.7l2 1.7l3 1.9l1.5 0.6l2.5 0.2l1-0.1l2.5-0.8l3.5-2l0.5-0.4l0.5-0.7l0.5-1.4l0.5-1.8l0.5-2.2l2-10.6l1-4.6l0.5-1.8l0.5-1.2l0.5-0.7l0.5 0.1l0.5 0.7l0.5 1l1 3.2l2 7.9l0.5 1.8l0.5 1.5l0.5 1.2l1 1l5.5 1.2l2.5 0.3l4.5 0.1l3.5-0.5l0.5 3.2h1l0.5-4.9h1l0.5-4.9h0.5l0.5 4.9h1l0.5 4.9h0.5l0.5-4.9h1l0.5-4.9h1l0.5 9.8h0.5l0.5-4.9h2l0.5-4.9h2.5l0.5 4.9h2l0.5 4.9h0.5l0.5-4.9h3.5l0.5-4.9h3.5l0.5 4.9h4.5l0.5-4.9h1l0.5 4.9h1l0.5-4.9h0.5l0.5 9.8h1l0.5-9.8h0.5l0.5 4.9h1l0.5-4.9h1l0.5 4.9h0.5l0.5-4.9h3.5l0.5 4.9h1l0.5-4.9h2l0.5 9.8h0.5l0.5-9.8h5l0.5 4.9h2l0.5-4.9h1l0.5 4.9h0.5l0.5-4.9h1l0.5 4.9h3.5l0.5 4.9h0.5l0.5-9.8h2l0.5 4.9h2.5l0.5-4.9h2l0.5 4.9h0.5l0.5-4.9h1l0.5 9.8h1l0.5-4.9h0.5l0.5 4.9h1l0.5-9.8h0.5l0.5 4.9h1l0.5 4.9h1l0.5-4.9h0.5l0.5-4.9h1l0.5 4.9h2l0.5-4.9h1l0.5 4.9h0.5l0.5-4.9h1l0.5 4.9h0.5l0.5-4.9h2.5l0.5 4.9h6l0.5-4.9h3l0.5 4.9h2.5l0.5-4.9h0.5l0.5 4.9h1l0.5-4.9h0.5l0.5 4.9h1l0.5-4.9h1l0.5 9.8h0.5l0.5-9.8h2l0.5 4.9h2.5l0.5-4.9h0.5l0.5 4.9h2l0.5-4.9h1l0.5 4.9h3.5l0.5 4.9h0.5l0.5-4.9h1l0.5 4.9h1l0.5-4.9h4.5l0.5-4.9h2l0.5 4.9h3.5l0.5-4.9h1l0.5 4.9h0.5l0.5-4.9h3.5l0.5 4.9h1l0.5-4.9h0.5l0.5 4.9h1l0.5 4.9h0.5l0.5-9.8h2.5l0.5 4.9h0.5l0.5-4.9h1l0.5 4.9h0.5l0.5 4.9h2.5l0.5-9.8h2l0.5 4.9h3.5l0.5-4.9h2l0.5 4.9h6l0.5 4.9h0.5l0.5-9.8h5l0.5 4.9h0.5l0.5 4.9h1l0.5-9.8h1l0.5 4.9h3l0.5 4.9h1l0.5-9.8h2l0.5 4.9h2l0.5 4.9h1l0.5-4.9h2l0.5-4.9h2l0.5 4.9h1l0.5-4.9h4.5l0.5 4.9h1l0.5 4.9h1l0.5-4.9h0.5l0.5-4.9h2l0.5 9.8h2.5l0.5-9.8h2l0.5 4.9h0.5l0.5-4.9h2.5l0.5 4.9h2l0.5-4.9h0.5l0.5 4.9h5l0.5-4.9h2l0.5 4.9h1l0.5 4.9h2l0.5-4.9h4.5l0.5-4.9h1l0.5 9.8h0.5l0.5-4.9h2.5l0.5-4.9h6l0.5 4.9h2l0.5-4.9h0.5l0.5 9.8h1l0.5-4.9h4.5l0.5 4.9h1l0.5-9.8h1l0.5 4.9h2l0.5 4.9h0.5l0.5-4.9h2.5l0.5-4.9l0.5 3.6h1.4"/>
<path stroke="#00ff00" d="M308.5 2066.5h1l0.5-3.5h1l0.5 4.9h3.5l0.5-4.9h3.5l0.5 4.9h0.5l0.5-4.9h1l0.5 4.9h1l0.5-4.9h0.5l0.5 4.9h3.5l0.5-4.9h2l0.5 4.9h1l0.5 4.9h0.5l0.5-4.9h1l0.5-4.9h1l0.5 4.9h2l0.5-4.9h0.5l0.5 4.9h5l0.5-4.9h0.5l0.5 9.8h2.5l0.5-4.9h2l0.5-4.9h2l0.5 4.9h3.5l0.5-4.9h0.5l0.5 4.9h2.5l0.5-4.9h2l0.5 4.9h0.5l0.5-4.9h2.5l0.5 4.9h2l0.5-4.9h2l0.5 4.9h1l0.5-4.9h0.5l0.5 4.9h3.5l0.5 4.9h1l0.5-4.9h0.5l0.5-4.9h2l0.5 4.9h1l0.5-4.9h1l0.5 9.8h0.5l0.5-9.8h3.5l0.5 4.9h3.5l0.5-4.9h0.5l0.5 4.9h1l0.5-4.9h2l0.5 9.8h2l0.5-9.8h1l0.5 4.9h1l0.5-4.9h0.5l0.5 4.9h1l0.5-4.9h2l0.5 4.9h4.5l0.5-4.9h1l0.5 4.9h1l0.5-4.9h0.5l0.5 4.9h3.5l0.5-4.9h1l0.5 4.9h0.5l0.5 4.9h1l0.5-4.9h0.5l0.5 4.9l0.5-6.2l2 1.1l1 0.3l0.5-19.8l0.5-49.4l1-128.6l0.5-49.4l0.5-19.8l0.5 6.8l0.5 18l0.5 25.5l1 58.4l0.5 25.5l0.5 18l0.5 6.8l0.5-2.7l0.5-6.8l0.5-9.4l0.5-10.2l0.5-9.4l0.5-6.8l0.5-2.7l0.5 16.9l0.5 42.2l1 109.8l0.5 42.2l0.5 16.9h82l0.5-1.9l0.5-5.4l0.5-8.3l0.5-10.4l0.5-12.1l0.5-13l0.5-13.5l0.5-13.1l0.5-12.4l0.5-10.8l0.5-8.8l0.5-6l0.2-1.8l1.3-6.5l1-4.5l1-3.7l1-2.8l0.5-1.1l0.5-0.8l1-0.6l1 0.4l1 1.1l1.5 2.5l1.5 3.3l2.5 5.7l1 1.9l1 1.5l1 0.9l1 0.1l0.5-0.9l0.5-1.7l0.5-2.3l1-5.8l1-6.2l0.5-2.9l0.5-2.5l0.5-2l0.5-1.4l3 0.2l0.5 4.9h3l0.5 4.9h2.5l0.5 4.9h0.5l0.5-4.9h2l0.5 4.9h3.5l0.5-9.8h1l0.5 4.9h2l0.5-4.9h2l0.5-4.9h1l0.5 4.9h3.5l0.5-9.8h3l0.5-4.9h2.5l0.5-9.8h0.5l0.5 4.9h1l0.5-4.9h2l0.5-4.9h2l0.5 4.9h1l0.5-4.9h7l0.5-4.9h1l0.5-4.9h2l0.5 4.9h1l0.5-4.9h2l0.5 4.9h1l0.5-4.9h3l0.5-4.9h2.5l0.5 4.9h0.5l0.5-4.9h1l0.5-4.9h2l0.5 4.9h1l0.5-4.9h2l0.5-4.9h0.5l0.5 4.9h2.5l0.5-4.9h0.5l0.5 4.9h1l0.5-4.9h0.5l0.5 4.9h1l0.5-9.8h1l0.5 4.9h0.5l0.5-4.9h1l0.5-4.9h2l0.5 4.9h1l0.5-9.8h0.5l0.5-4.9h1l0.5-14.7h0.5l0.5-24.5h1.3l0.2-4.9h1l0.5-9.8h0.5l0.5-4.9h1l0.5-9.8h0.5l0.5-9.8h2.5l0.5-4.9h0.5l0.5-9.8h3.5l0.5 4.9h1l0.5-4.9h2l0.5 4.9h0.5l0.5 4.9h2.5l0.5-4.9h0.5l0.5 9.8h1l0.5 4.9h0.5l0.5 9.8h2.5l0.5 9.8h2l0.5-4.9h3.5l0.5 9.8h0.5l0.5 9.8h1l0.5 4.9h0.7l0.3 4.9h1l0.5 9.8h3.5l0.5 4.9h2l0.5-4.9h3.5l0.5-4.9h2l0.5-4.9h1l0.5 4.9h2l0.5-4.9h0.5l0.5-4.9h1l0.5-4.9h1l0.5 4.9h3l0.5-4.9h1l0.5-4.9h1l0.5 4.9h0.5l0.5-4.9h2l0.5 4.9h1l0.5-4.9h4.5l0.5-4.9h1l0.5-4.9h1l0.5 4.9h0.5l0.5-4.9h3.5l0.5-4.9h2l0.5-4.9h2l0.5 4.9h1l0.5-4.9h2l0.5-4.9h3.5l0.5 4.9h1l0.5-4.9h2l0.5 4.9h4.5l0.5-4.9h1l0.5 4.9h0.5l0.5 4.9h1l0.5-9.8h1l0.5 4.9h3l0.5-4.9h3.5l0.5-4.9h5l0.5-4.9h3l0.5-4.9h1l0.5 4.9h2l0.5-4.9h1l0.5-4.9h2l0.5 4.9h1l0.5-4.9h2l0.5 4.9h0.5l0.5-4.9h3.5l0.5-9.8h1l0.5 4.9h0.5l0.5 4.9h1l0.5-4.9h2l0.5-4.9h1l0.5 4.9h0.5l0.5-4.9h18l0.5-4.9h2l0.5-4.9h1l0.5-4.9h0.5l0.5 4.9h1l0.5 4.9h0.5l0.5 4.9h1l0.5 14.7h1l0.5 9.8h0.5l0.5 4.9h1l0.5 14.7h0.5l0.5 4.9h1l0.5-4.9h1l0.5 4.9h0.5l0.5 9.8h1l0.2-9.8h2.3l0.5 4.9h1l0.5-4.9h2l0.5-4.9h0.5l0.5-4.9h1l0.5-4.9h1l0.5-4.9h0.5l0.5-14.7h1l0.5-9.8h0.5l0.5-9.8h1l0.5-4.9h1l0.5-9.8h2l0.5-4.9h0.5l0.5-4.9h1l0.5-4.9h1l0.5 4.9h0.5l0.5-9.8h1l0.5 4.9h0.5l0.5-4.9h1l0.5-4.9h1l0.5-9.8h0.5l0.5-4.9h2l0.5-4.9h7.5l0.5-4.9h3.5l0.5-4.9h6l0.5-4.9h0.5l0.5 4.9h3.5l0.5-4.9h1l0.5-4.9h4.5l0.5 4.9h1l0.5-4.9h0.5l0.5-4.9h2.5l0.5 4.9h4.5l0.5-4.9h3.5l0.5-4.9h3.5l0.5-4.9h0.5l0.5 4.9h1l0.5-9.8h0.5l0.5 4.9h1l0.5-4.9h1l0.5 4.9h3l0.5-4.9h2.5l0.5-4.9h2l0.5-9.8h2l0.5-4.9h1l0.5 4.9h2l0.5-4.9h0.5l0.5-4.9h5l0.5-4.9h0.5l0.5-4.9h1l0.5-4.9h1l0.5 4.9h2l0.5-4.9h0.5l0.5 4.9h1l0.5-4.9h1l0.5-4.9h0.5l0.5 4.9h1l0.5 4.9h0.5l0.5-4.9h3.5l0.5-4.9h1l0.5 4.9h0.5l0.5-4.9h1l0.5 4.9h1l0.5-4.9h0.5l0.5 4.9h5l0.5-4.9h0.5l0.5 4.9h3.5l0.5-4.9h4.5l0.5-4.9h1l0.5 4.9h2l0.5-9.8h3.5l0.5-4.9h1l0.5-4.9h2l0.5-9.8h4.5l0.5-4.9h1l0.5-4.9h0.5l0.5 4.9h1l0.5-4.9h1l0.5 4.9h0.5l0.5-4.9h1l0.5-4.9h0.5l0.5 9.8h1l0.5-9.8h7.5l0.5-9.8h0.5l0.5 4.9h1l0.5-4.9h0.5l0.5-4.9h1l0.5-19.6h1l0.3-4.9h2.2l0.5-4.9h0.5l0.5-9.8h1l0.5-9.8h1l0.5-14.7h3l0.5-4.9h1l0.5 4.9h1l0.5-4.9h0.5l0.5-4.9h2l0.5 4.9h2.5l0.5 4.9h0.5l0.5 14.7h2l0.5 9.8h1l0.5-4.9h1l0.5 4.9h3l0.5-4.9h1l0.5 4.9h1l0.5-4.9h0.5l0.5 4.9h3.5l0.5 4.9h4.5l0.5 4.9h6l0.5 4.9h3.5l0.5-4.9h1l0.5-4.9h0.5l0.5 4.9h1l0.5-9.8h7.5l0.5-4.9h2l0.5 4.9h0.5l0.5-4.9h1l0.5-4.9h3.5l0.5-9.8h0.5l0.5 4.9h1l0.5-4.9h1l0.5 4.9h3l0.5-4.9h1l0.5-4.9h1l0.5 4.9h0.5l0.5-4.9h1l0.5 4.9h0.5l0.5-4.9h1l0.5 4.9h1l0.5-4.9h4.5l0.5-4.9h2l0.5 4.9h1l0.3-9.8h0.7l0.5 4.9h3.5l0.5 4.9h1l0.5 4.9h11l0.5-4.9h1l0.5 4.9h2l0.5-4.9h2l0.5-9.8h1l0.5 4.9h2l0.5-9.8h2l0.5-4.9h1l0.5 4.9h0.5l0.5-4.9h1l0.5-4.9h1l0.5-4.9h0.5l0.5 4.9h2l0.5-4.9h2.5l0.5-4.9h0.5l0.5-4.9h2l0.5-4.9h1l0.5-9.8h1l0.5-4.9h0.5l0.5-4.9h1l0.5 4.9h0.5l0.5-4.9h1l0.5 4.9h1l0.5-9.8h6l0.5-4.9h0.5l0.5 4.9h1l0.5-4.9h2l0.5-9.8h2.3l0.2-4.9h2l0.5 4.9h1l0.5-9.8h2l0.5 4.9h2l0.5-4.9h1l0.5 4.9h1l0.5-4.9h0.5l0.5 4.9h2l0.5-4.9h1l0.5-4.9h2l0.5-4.9h2l0.5-9.8h1l0.5-4.9h1l0.5 4.9h2l0.5-9.8h3.5l0.5-4.9h2l0.5-4.9h0.5l0.5-9.8h5l0.5-4.9h0.5l0.5 4.9h1l0.5-4.9h1l0.5 4.9h6l0.5-4.9h0.5l0.5 9.8h2l0.5 4.9h1l0.5 4.9h1l0.5-4.9h0.5l0.5 4.9h1l0.5-9.8h2l0.5-4.9h2l0.5 4.9h1l0.5-9.8h0.5l0.5-4.9h2.5l0.5-4.9h0.5l0.5-4.9h1l0.5-4.9h0.5l0.5-4.9h1l0.5-4.9h2l0.5-14.7h2l0.5-4.9h0.5l0.5-2.8l0.5-4.1l1-9.3l0.5-4.3l0.5-3.4l0.5-2l0.3-0.4l0.2 0.2l0.5 2.4l0.5 4.2l0.5 5.4l0.5 5.9l0.5 5.6l0.5 4.5l0.5 2.8l0.5 1.4l1 1.6l1 1.2l0.5 0.9l0.5 1.2l0.5 1.7l0.5 10.3l0.5 22.3l0.5 27.7l0.5 26.4l0.5 18.3l0.5 10.6l0.5 8.3l1 14l0.5 7.6l0.5 9.5l0.5 12.6l0.5 15.4l0.5 16.2l0.5 15.3l0.4 10.5l0.6 12.8l0.5 9.3l1 18l0.5 9.9l0.5 10.7l0.5 11.1l0.5 11.5l0.5 11.9l0.5 12.2l0.5 12.6l0.5 13.4l0.5 14.2l0.5 14.6l0.5 14.3l1 27.1l0.5 14l0.5 13.2l0.5 11.2l0.5 8l0.5 5.1l0.5 3.9l0.5 3l1 5.2l0.5 3.2l0.5 4.1l0.5 5.5l0.5 9.6l0.5 14.6l0.5 17.9l0.5 19.2l0.5 18.7l0.5 19.2l0.5 21.1l0.5 21.4l0.5 20.4l0.5 17.9l0.5 17.1l0.5 17.9l0.5 17.1l0.5 14.3l0.5 9.9l0.5 3.7h7l0.5-0.9l0.5-2.4l0.5-3.9l0.5-5l0.5-6l0.5-6.7l1-14.6l1-15l0.5-7l0.5-6.4l0.8-8.8l0.2-1.5l0.5-4.6l1-9.9l0.5-4.8l0.5-4.4l0.5-4l0.5-3.3l0.5-2.4l0.5-1.4l0.5-0.2l0.5 1.2l0.5 2.7l0.5 3.7l0.5 4.7l0.5 5.5l0.5 6l1 12.7l0.5 9l0.5 13l0.5 15.5l0.5 16.5l0.5 16l0.5 13.9l0.5 10.4l0.5 5.3l0.2 0.4h9.1l0.2-0.4l0.5-5.4l0.5-11l0.5-15.3l0.5-18.6l0.5-20.6l0.5-21.5l0.2-7.2l0.3-19.1l0.5-30.9l0.5-23.3l0.5-20.8l0.5-12.7l0.2-1.5l0.8-2.9l1-2.8l1-2.1l1-1.5l1-0.9l1-0.5l1-0.1l0.5 0.3l0.5 0.6l0.5 0.9l1 2.8l0.5 1.7l1 4.2l1 5l0.7 3.6l0.3 2.9l0.5 7.1l0.5 9.2l0.5 9.7l0.5 8.9l0.5 6.4l0.5 2.5l0.5-2.3l0.5-6l0.5-8l0.5-8.5l0.5-7.5l0.5-5l0.3-1h0.2l0.5 0.6l0.5 1.2l0.5 1.8l0.5 2.2l0.5 2.6l0.5 2.9l1 6.4l1 6.9l0.5 5.2l0.5 6.6l0.5 7.2l0.5 6.6l0.5 5.2l0.5 2.7l0.5 0.1l0.5-0.4l1.5-2.4l1-1.6l0.8-0.5l0.2 0.2l0.5 2.1l0.5 4l0.5 5.4l1 11.8l0.5 5.1l0.2 1.4l0.8 7.4l1 9.5l0.5 4.4l0.5 3.8l0.5 2.9l0.5 1.7l0.5 0.3l0.5-0.7l0.5-1.4l0.5-2l0.5-2.3l1.5-8l0.5-2.4l0.5-2.1l0.5-1.7l0.7-1.1l2.3-1.3l2.5-1l0.5-0.1l0.5-2.8h1l0.5 4.9h1l0.5-4.9h0.5l0.5 4.9h2l0.5-4.9h1l0.5 4.9h1l0.5-4.9h3l0.5 4.9h1l0.5-4.9h2l0.5 4.9h1l0.5-9.8h0.5l0.5 4.9h6l0.5-9.8h3.5l0.5 4.9h3.5l0.5-4.9h1l0.5 4.9h4.5l0.5 4.9h2l0.5 4.9h2l0.5-4.9h1l0.5 4.9h2l0.5-4.9h1l0.5 4.9h2l0.5-4.9h6l0.5 4.9h7.5l0.5 4.9h0.5l0.5-4.9h1l0.5 4.9h0.5l0.5-4.9h1l0.5-4.9h1l0.5 4.9h0.5l0.5 4.9h5l0.5-4.9h0.5l0.5-4.9h1l0.5 4.9h0.5l0.5 4.9h1l0.5-4.9h2l0.5-4.9h1l0.5 4.9h0.5l0.5-4.9h1l0.5 9.8h2l0.5-4.9h2l0.5 4.9h1l0.5-4.9h1l0.5-4.9h0.5l0.5 4.9h1l0.5 4.9h0.5l0.5-4.9h3.5l0.5 4.9h2l0.5-4.9h5l0.5 4.9h2l0.5-4.9h3.5l0.5 4.9h3.5l0.5-9.8h0.5l0.5 4.9h2l0.5 4.9h1l0.5-4.9h3.5l0.5 4.9h2l0.5-4.9h1l0.5 4.9h0.5l0.5-9.8h1l0.5 9.8h0.5l0.5-4.9h2.5l0.5 4.9h0.5l0.5-4.9h6l0.5 4.9h2l0.5-4.9h1l0.5 4.9h3.5l0.5-4.9h3.5l0.5 4.9h0.5l0.5-4.9h5l0.5 4.9h2l0.5-4.9h3.5l0.5 4.9h0.5l0.5-4.9h2l0.5-4.9h1l0.5 4.9h1l0.5 4.9h3l0.5-4.9h1l0.5 4.9h1l0.5-4.9h2l0.5-4.9h0.5l0.5 4.9h1l0.5 4.9h2l0.5-4.9h2l0.5-4.9h1l0.5 9.8h2l0.5-4.9h1l0.5 4.9h0.5l0.5-4.9h1l0.5 4.9h4.5l0.5-4.9h1l0.5 4.9h3.5l0.5-4.9h0.5l0.5 4.9h1l0.5-4.9h4.5l0.5 4.9h5l0.5-4.9h0.5l0.5 4.9h1l0.5-4.9h1l0.5 4.9h0.5l0.5-4.9h2l0.5 4.9h2.5l0.5-4.9h4.5l0.5 4.9h2l0.5-4.9h1l0.5 4.9h0.5l0.5-9.8h1l0.5 4.9h1l0.5-4.9h0.5l0.5 4.9h2l0.5 4.9h1l0.5-9.8h1l0.5 4.9h4.5l0.5 4.9h3.5l0.5-4.9h0.5l0.5 4.9h1l0.5-4.9h8.5l0.5 4.9h1l0.5-4.9h3.5l0.5-4.9h0.5l0.5 4.9h2l0.5 4.9h1l0.5-4.9h3.5l0.5 4.9h4.5l0.5-4.9h2l0.5 4.9h1l0.5-4.9h1l0.5 4.9h0.5l0.5-4.9h1l0.5 4.9h3.5l0.5-4.9h2l0.5 4.9h3.5l0.5-4.9h2l0.5 4.9l0.5-3.4h1.4"/>
<path stroke="#0000ff" d="M308.5 2064h1l0.5-1h1l0.5 4.9h2l0.5-4.9h2.5l0.5 4.9h0.5l0.5-4.9h5l0.5-4.9h0.5l0.5 9.8h2l0.5-4.9h2.5l0.5 4.9h2l0.5-9.8h0.5l0.5 4.9h2.5l0.5 4.9h0.5l0.5-4.9h1l0.5-4.9h2l0.5 9.8h1l0.5-9.8h0.5l0.5 4.9h2l0.5 4.9h1l0.5-4.9h1l0.5 4.9h2l0.5-9.8h0.5l0.5 4.9h1l0.5-4.9h2l0.5 9.8h1l0.5-4.9h4.5l0.5 4.9h2l0.5-4.9h7.5l0.5 4.9h2l0.5-4.9h1l0.5 4.9h2l0.5-4.9h1l0.5-4.9h0.5l0.5 4.9h1l0.5 4.9h0.5l0.5-9.8h1l0.5 4.9h1l0.5 4.9h0.5l0.5-9.8h1l0.5 9.8h0.5l0.5-4.9h2.5l0.5 4.9h0.5l0.5-4.9h2l0.5 4.9h1l0.5-4.9h2l0.5 4.9h2l0.5-4.9h1l0.5-4.9h1l0.5 4.9h0.5l0.5-4.9h2l0.5 4.9h1l0.5 4.9h2l0.5-4.9h1l0.5-4.9h2l0.5 4.9h3.5l0.5-4.9h0.5l0.5 9.8h1l0.5-4.9h1l0.5 4.9h0.5l0.5-4.9h1l0.5-4.9h0.5l0.5 4.9l0.5 1h1l2.5 76l2.5-267.5l1.5 114.6l2 152.9l2.5-134.3l1-53.7l2.5 134.3l1 53.7l1.5-47.1l2-62.9l2 66.7l1.3 43.3l1.7-152.3l0.3-22.5l0.7-1.4h1.5l0.8 1.4l0.2 21.4l1.8 153.4l1.7-53.1l1.5-46.9l4 100l2.5-152.2l0.7-1.6h1.6l0.7 1.6l3.2 152.2l1.8-38.6l2-42.9l1-21.5l4 77.7l1.3 25.3l1.7-59.1l2-69.5l0.3-8.6l0.7-1.6h1.5l0.8 1.6l0.2 14l2.2 123.2l3.8-92l0.2-6l0.3 6.2l3.5 86.8l0.2 5l2.3-130.6l0.3-14.2l0.7-1.4h1.5l0.8 1.4l0.2 13.7l1.5 81.9l0.9 49.2l2.1-52.8l2-50.2l4 77.7l1.3 25.3l3.7-111l0.3-7.5l0.7-1.5h1.5l0.8 1.5l0.2 12.1l2.2 106.4l3.8-40.3l0.2-2.7l0.3 2.6l3.5 36.3l0.4 4.1l2.6-122.2l0.8-1.6h1.4l0.8 1.6l2.5 122.2l2.5-15.6l1.5-9.4l3.5 20.3l0.8 4.7l1.2-32.4l1.5-40.6l0.3-6.8l0.7-1.4h1.5l0.8 1.4l0.2 7l2.6 72.8l2.4-13.6l2-11.4l3 16.7l1.5 8.3l0.5-3l0.5-8.2l0.5-12l0.5-14.6l1-31.9l0.5-14.6l0.5-12l0.5-8.2l0.5-3l0.5 1l0.5 2.9l0.5 4.3l0.5 5.3l0.5 5.9l0.5 6.2l0.5 5.9l0.5 5.3l0.5 4.3l0.5 2.9l0.5 1l0.5-0.5l0.5-1.5l0.5-2.3l0.5-3.1l0.5-3.7l0.5-4.3l0.5-4.7l1-10.2l0.5-8.7h1l0.5-19.6h1l0.5-9.8h0.5l0.5-4.9h1l0.5 4.9h2l0.5 4.9h1l0.5 4.9h0.5l0.5 4.9h1l0.5 4.9h2l0.5 4.9h2l0.5-9.8h1l0.5-9.8h0.5l0.5-4.9h1l0.5-4.9h1l0.5 4.9h3l0.5 4.9h2.5l0.5 14.7h2l0.2-4.9h0.8l0.5-4.9h2.5l0.5-9.8h2l0.5-9.8h0.5l0.5-4.9h5l0.5-4.9h3.5l0.5-4.9h3l0.5-4.9h3.5l0.5 4.9h1l0.5-4.9h2l0.5-4.9h1l0.5 4.9h3l0.5-4.9h1l0.5-4.9h3.5l0.5-4.9h0.5l0.5 4.9h2.5l0.5-4.9h3l0.5-4.9h2.5l0.5-4.9h2l0.5 4.9h0.5l0.5-4.9h3.5l0.5-4.9h3.5l0.5 4.9h1l0.5-4.9h3l0.5-4.9h1l0.5-4.9h10l0.5-4.9h0.5l0.5 4.9h1l0.5 4.9h2l0.5 4.9h1l0.5-4.9h0.5l0.5-4.9h1l0.5-4.9h3.5l0.5-4.9h0.5l0.5-4.9h1l0.5-4.9h3.5l0.5-4.9h2l0.5-4.9h1l0.5 4.9h0.5l0.5-4.9h1l0.5 4.9h0.5l0.5-4.9h2.5l0.5 9.8h0.5l0.5-4.9h1l0.5 4.9h0.5l0.5 4.9h1l0.5-9.8h2l0.5 4.9h1l0.5-4.9h0.5l0.5-4.9h2.5l0.5-4.9h3l0.5-4.9h5l0.5-4.9h4.5l0.5-4.9h1l0.5 4.9h3.5l0.5-4.9h0.5l0.5-4.9h2l0.5 4.9h2.5l0.5-4.9h2l0.5 4.9h0.5l0.5-4.9h2.5l0.5-4.9h0.5l0.5 4.9h1l0.5-4.9h0.5l0.5 4.9h1l0.5-4.9h2l0.5-4.9h6l0.5-4.9h5l0.5-4.9h2l0.5 4.9h3.5l0.5-4.9h2l0.5-4.9h0.5l0.5-4.9h2.5l0.5-4.9h2l0.5 4.9h3.5l0.5-4.9h4.5l0.5-9.8h1l0.5-9.8h2l0.5-9.8h0.8l0.2-9.8h2.5l0.5-9.8h0.5l0.5-4.9h2l0.5-4.9h1l0.5-4.9h2l0.5-4.9h2.3l0.2 4.9h1l0.5-4.9h2l0.5 4.9h1l0.5 9.8h3.5l0.5-4.9h0.5l0.5 9.8h1l0.5-4.9h4.5l0.5 4.9h1l0.5-4.9h0.5l0.5 4.9h5l0.5 4.9h2l0.5 4.9h1l0.5 4.9h0.5l0.5-4.9h6l0.5 4.9h1l0.5-4.9h0.5l0.5-4.9h1l0.5 4.9h3.5l0.5-4.9h7l0.5-4.9h2.5l0.5-4.9h3l0.5-4.9h1l0.5 4.9h1l0.5-4.9h0.5l0.5-4.9h3.5l0.5-4.9h2l0.5-4.9h1l0.5-4.9h2l0.5 4.9h1l0.5-4.9h2l0.5-4.9h4.5l0.5-4.9h2l0.5 4.9h3.5l0.5-9.8h1l0.5 4.9h0.5l0.5-4.9h1l0.5 4.9h3.5l0.5 4.9h4.5l0.5 4.9h2l0.5-4.9h1l0.5-4.9h3.5l0.5-4.9h4.5l0.5-9.8h1l0.5 4.9h2l0.5-4.9h2l0.5-4.9h3.5l0.5 4.9h2l0.5-4.9h8.5l0.5-4.9h1l0.5 4.9h2l0.5-4.9h2l0.5 4.9h1l0.5-4.9h1l0.5 4.9h3l0.5-4.9h1l0.5-4.9h4.5l0.5-4.9h1l0.5-4.9h1l0.5 4.9h3l0.5-9.8h1l0.5 4.9h2l0.5-4.9h1l0.5 4.9h2l0.5-4.9h3.5l0.5-4.9h0.5l0.5 4.9h1l0.5 4.9h1l0.5-9.8h0.5l0.5 4.9h1l0.5-4.9h0.5l0.5-4.9h1l0.5 4.9h1l0.5-9.8h0.5l0.5 4.9h2l0.5-4.9h1l0.5-4.9h1l0.5 4.9h0.5l0.5 4.9h2l0.5-4.9h1l0.5 4.9h1l0.5 9.8h0.5l0.5-4.9h3.5l0.5 4.9h1l0.5-4.9h2l0.5 4.9h0.5l0.5-4.9h1l0.5-4.9h1l0.5-4.9h0.5l0.5 4.9h1l0.5-4.9h2l0.5-4.9h2l0.5 4.9h1l0.5-4.9h2l0.5-4.9h2l0.5-4.9h3.5l0.5-4.9h7.5l0.5-4.9h2l0.5-4.9h0.5l0.5-4.9h2.5l0.5 4.9h0.5l0.5-9.8h1l0.5 4.9h0.5l0.5-4.9h2.5l0.5-4.9h0.5l0.5 4.9h1l0.5-4.9h0.5l0.5-4.9h5l0.5-9.8h2l0.5-4.9h3.5l0.5 4.9h0.5l0.5-9.8h7.5l0.5-9.8h1l0.5 4.9h0.5l0.5-4.9h1l0.5-4.9h2l0.5 4.9h1l0.5-4.9h2l0.5-4.9h3.5l0.5-4.9h0.5l0.5-4.9h1l0.5 4.9h0.5l0.5-4.9h1l0.5-4.9h2l0.5-4.9h2l0.5 4.9h2.5l0.5-4.9h2l0.5 4.9h2l0.5-4.9h1l0.5 4.9h0.5l0.5 4.9h1l0.5-4.9h2l0.5 4.9h1l0.5-4.9h3l0.5 4.9h5l0.5-4.9h2l0.5-4.9h2l0.5-4.9h2l0.5-4.9h1l0.5-9.8h2l0.5-9.8h1l0.5-9.8h2l0.5-4.9h1l0.5 4.9h0.5l0.5 4.9h1l0.5-9.8h0.5l0.5 4.9h1l0.5-9.8h1l0.5-4.9h0.5l0.5-4.9h6l0.5-4.9h7.5l0.5-4.9h0.5l0.5-4.9h2.5l0.5-4.9h0.5l0.5 4.9h1l0.5-9.8h2l0.5-4.9h1l0.5-4.9h0.5l0.5 4.9h1l0.5-9.8h2l0.5 4.9h2l0.5-4.9h1l0.5 9.8h0.5l0.5-9.8h2.5l0.5 9.8h0.5l0.5-4.9h1l0.5 4.9h0.5l0.5-4.9h2.5l0.5-4.9h0.5l0.5-4.9h3.5l0.5-4.9h1l0.5-4.9h0.5l0.5 4.9h1l0.5-4.9h0.5l0.5-4.9h1l0.5-4.9h1l0.5-4.9h0.5l0.5-4.9h1l0.5-4.9h2l0.5-4.9h4.5l0.5 4.9h2.5l0.5-4.9h2l0.5-4.9h0.5l0.5 4.9h2.5l0.5-4.9h0.5l0.5 4.9h1l0.5-4.9h0.5l0.5 4.9h1l0.5-4.9h2l0.5-4.9h2l0.5-4.9h1l0.5 4.9h1l0.5-4.9h0.5l0.5-4.9h3.5l0.5-4.9h2l0.5-4.9h3.5l0.5-9.8h1l0.5 4.9h0.5l0.5-9.8h1l0.5-4.9h0.5l0.5-4.9h3l0.5-5.6l1-3.7l1-3.8l0.5-1.7l0.5-1.3l0.5-1l0.6-0.4l1.8 250l2.1-246l2.3 267l1.7-185l2 220l2-120l1.5 150l2-70l2 190l2-90l2 150l2-50l2 150l1.5-25l1.5 165l2-155l2 155l2-150l2 150l2-155l2 155l2-150l2 150l1.5-190l2-17l2 132l2-130l2 130l2-129l2 132l2-106l2 106l2-104l2 104l2-78l2 78l2-75l2 75l2-52l2 52l2-48l2.5 46l3-36l3 36l2-16.8l1.7-14.2l3.3 29l1.5-11.1l2-14.9l1.5 11.1l2 14.9l2-14.7l1-7.3l2.5 13.8l1.5 8.2l2.5-8.8l1.5-5.2l5 14l3-0.5l1.5-0.6l3.5-0.9h1.5l2 0.3l0.5-4.2h2.5l0.5 4.9h6l0.5 4.9h4.5l0.5-4.9h4.5l0.5 4.9h1l0.5-9.8h1l0.5 4.9h9.5l0.5-4.9h2.5l0.5 4.9h0.5l0.5 4.9h1l0.5-9.8h0.5l0.5 9.8h1l0.5-4.9h1l0.5 4.9h0.5l0.5-4.9h1l0.5 4.9h2l0.5-4.9h1l0.5 4.9h0.5l0.5-4.9h5l0.5 4.9h0.5l0.5-4.9h2l0.5 4.9h1l0.5-4.9h2l0.5-4.9h1l0.5 9.8h3.5l0.5-4.9h6l0.5-4.9h0.5l0.5 4.9h3.5l0.5-4.9h1l0.5 4.9h2l0.5 4.9h0.5l0.5-4.9h3.5l0.5-4.9h1l0.5 4.9h0.5l0.5-4.9h1l0.5 9.8h4.5l0.5-9.8h1l0.5 4.9h1l0.5 4.9h0.5l0.5-4.9h3.5l0.5 4.9h1l0.5-4.9h0.5l0.5-4.9h1l0.5 9.8h0.5l0.5-4.9h1l0.5 4.9h2l0.5-4.9h1l0.5 4.9h3.5l0.5-9.8h2l0.5 4.9h2l0.5 4.9h1l0.5-9.8h0.5l0.5 4.9h1l0.5 4.9h0.5l0.5-4.9h1l0.5 4.9h2l0.5-9.8h1l0.5 9.8h0.5l0.5-4.9h1l0.5-4.9h1l0.5 9.8h0.5l0.5-4.9h7.5l0.5 4.9h0.5l0.5-4.9h1l0.5-4.9h1l0.5 9.8h2l0.5-4.9h0.5l0.5 4.9h1l0.5-4.9h2l0.5-4.9h2l0.5 4.9h1l0.5 4.9h1l0.5-4.9h2l0.5-4.9h0.5l0.5 9.8h1l0.5-4.9h1l0.5 4.9h2l0.5-9.8h2l0.5 4.9h2l0.5 4.9h1l0.5-4.9h0.5l0.5 4.9h2.5l0.5-4.9h0.5l0.5 4.9h2l0.5-4.9h2.5l0.5 4.9h0.5l0.5-4.9h2l0.5 4.9h1l0.5-4.9h1l0.5 4.9h0.5l0.5-4.9h1l0.5 4.9h4.5l0.5-4.9h5l0.5 4.9h0.5l0.5-4.9h1l0.5 4.9h2l0.5-4.9h6l0.5 4.9h1l0.5-4.9h0.5l0.5 4.9h1l0.5-4.9h0.5l0.5 4.9h1l0.5-9.8h1l0.5 4.9h0.5l0.5-4.9h1l0.5 9.8h0.5l0.5-4.9h1l0.5-4.9h1l0.5 9.8h2l0.5-4.9h0.5l0.5 4.9h1l0.5-4.9h2l0.5 4.9h2l0.5-4.9h1l0.5-4.9h1l0.5 4.9h2l0.5 4.9h0.5l0.5-4.9h1l0.5 4.9h1l0.5-4.9h0.5l0.5 4.9h1l0.5-4.9h0.5l0.5 4.9h3.5l0.5-4.9h2l0.5 4.9h1l0.5-4.9h1l0.5 4.9h0.5l0.5-4.9h1l0.5 4.9h0.5l0.5-4.9h1l0.5 4.9h2l0.5-4.9h1l0.5 4.9h4.5l0.5-4.9h1l0.5 4.9h6l0.5-4.9h4.5l0.5 4.9h1l0.5-4.9h0.5l0.5 4.9h1l0.5-4.9h3.5l0.5-4.9h2l0.5 4.9h2l0.5-4.9h1l0.5 4.9h0.5l0.5 4.9h1l0.5-4.9h1l0.5-4.9h0.5l0.5 4.9h1l0.5-4.9h0.5l0.5 4.9h1l0.5 4.9h1l0.5-4.9h2.5l0.5 1.5h1.4"/>
</g>
<rect x="359.5" y="1178.6000000000001" width="439.3" height="376.09999999999997" fill="#fff" stroke="#000" stroke-width="1.8"/>
<line x1="369.1" y1="1229.9" x2="534.9" y2="1229.9" stroke="#000000" stroke-width="10.3"/>
<text transform="translate(554.20 1255.40) scale(1.008 1.048)" text-anchor="start">150 W</text>
<line x1="369.1" y1="1321.4" x2="534.9" y2="1321.4" stroke="#ff0000" stroke-width="10.3"/>
<text transform="translate(554.20 1346.90) scale(1.008 1.048)" text-anchor="start">250  W</text>
<line x1="369.1" y1="1412.9" x2="534.9" y2="1412.9" stroke="#00ff00" stroke-width="10.3"/>
<text transform="translate(554.20 1438.40) scale(1.008 1.048)" text-anchor="start">500 W</text>
<line x1="369.1" y1="1504.4" x2="534.9" y2="1504.4" stroke="#0000ff" stroke-width="10.3"/>
<text transform="translate(554.20 1529.90) scale(1.008 1.048)" text-anchor="start">750 W</text>
<text transform="translate(261.50 2078.65) scale(1.008 1.048)" text-anchor="end">0</text>
<text transform="translate(261.50 1775.40) scale(1.008 1.048)" text-anchor="end">25</text>
<text transform="translate(261.50 1472.15) scale(1.008 1.048)" text-anchor="end">50</text>
<text transform="translate(261.50 1168.90) scale(1.008 1.048)" text-anchor="end">75</text>
<text transform="translate(440.08 2224.40) scale(1.008 1.048)" text-anchor="middle">0</text>
<text transform="translate(703.25 2224.40) scale(1.008 1.048)" text-anchor="middle">20</text>
<text transform="translate(966.41 2224.40) scale(1.008 1.048)" text-anchor="middle">40</text>
<text transform="translate(1229.57 2224.40) scale(1.008 1.048)" text-anchor="middle">60</text>
<text transform="translate(1492.74 2224.40) scale(1.008 1.048)" text-anchor="middle">80</text>
<text transform="translate(1755.90 2224.40) scale(1.008 1.048)" text-anchor="middle">100</text>
<text transform="translate(94.90 1659.90) rotate(-90) scale(1.008 1.048)" text-anchor="start">I (A)</text>
<text transform="translate(1032.60 2354.20) scale(1.025 1.0)" text-anchor="middle">t (<tspan font-family="'Liberation Serif', 'DejaVu Serif', serif">μ</tspan>s)</text>
</svg>
</body>
</html>
